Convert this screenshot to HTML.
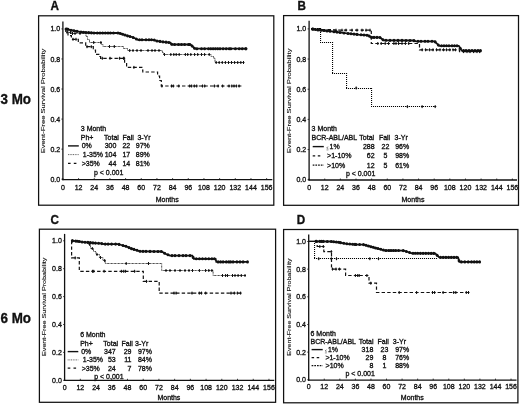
<!DOCTYPE html>
<html><head><meta charset="utf-8"><style>
html,body{margin:0;padding:0;background:#fff;}
body{width:520px;height:404px;position:relative;overflow:hidden;font-family:"Liberation Sans", sans-serif;}
text{stroke:#111;stroke-width:0.32px;}
</style></head><body>
<svg width="520" height="404" viewBox="0 0 520 404" style="position:absolute;left:0;top:0;will-change:transform;filter:blur(0.3px)">
<g font-family='"Liberation Sans", sans-serif' fill="#111" stroke-linecap="butt">
<text x="0" y="0" font-size="13.4" font-weight="bold" transform="translate(0.5,103.9) scale(1,1.04)">3 Mo</text>
<text x="0" y="0" font-size="13.4" font-weight="bold" transform="translate(0.5,322.8) scale(1,1.04)">6 Mo</text>
<rect x="38.60" y="15.80" width="235.20" height="189.40" fill="none" stroke="#111" stroke-width="1.25"/>
<text x="0" y="0" font-size="11.7" font-weight="bold" transform="translate(50.60,9.70) scale(1,1.08)">A</text>
<line x1="62.90" y1="21.40" x2="62.90" y2="180.20" stroke="#111" stroke-width="1.3"/>
<line x1="62.30" y1="179.60" x2="272.30" y2="179.60" stroke="#111" stroke-width="1.3"/>
<text x="60.20" y="181.75" font-size="7" text-anchor="end" font-weight="normal" >0.0</text>
<line x1="61.40" y1="179.20" x2="62.90" y2="179.20" stroke="#111" stroke-width="0.8"/>
<text x="60.20" y="151.69" font-size="7" text-anchor="end" font-weight="normal" >0.2</text>
<line x1="61.40" y1="149.14" x2="62.90" y2="149.14" stroke="#111" stroke-width="0.8"/>
<text x="60.20" y="121.63" font-size="7" text-anchor="end" font-weight="normal" >0.4</text>
<line x1="61.40" y1="119.08" x2="62.90" y2="119.08" stroke="#111" stroke-width="0.8"/>
<text x="60.20" y="91.57" font-size="7" text-anchor="end" font-weight="normal" >0.6</text>
<line x1="61.40" y1="89.02" x2="62.90" y2="89.02" stroke="#111" stroke-width="0.8"/>
<text x="60.20" y="61.51" font-size="7" text-anchor="end" font-weight="normal" >0.8</text>
<line x1="61.40" y1="58.96" x2="62.90" y2="58.96" stroke="#111" stroke-width="0.8"/>
<text x="60.20" y="31.45" font-size="7" text-anchor="end" font-weight="normal" >1.0</text>
<line x1="61.40" y1="28.90" x2="62.90" y2="28.90" stroke="#111" stroke-width="0.8"/>
<text x="62.90" y="189.80" font-size="7" text-anchor="middle" font-weight="normal" >0</text>
<line x1="62.90" y1="178.10" x2="62.90" y2="179.60" stroke="#111" stroke-width="0.8"/>
<text x="78.57" y="189.80" font-size="7" text-anchor="middle" font-weight="normal" >12</text>
<line x1="78.57" y1="178.10" x2="78.57" y2="179.60" stroke="#111" stroke-width="0.8"/>
<text x="94.24" y="189.80" font-size="7" text-anchor="middle" font-weight="normal" >24</text>
<line x1="94.24" y1="178.10" x2="94.24" y2="179.60" stroke="#111" stroke-width="0.8"/>
<text x="109.92" y="189.80" font-size="7" text-anchor="middle" font-weight="normal" >36</text>
<line x1="109.92" y1="178.10" x2="109.92" y2="179.60" stroke="#111" stroke-width="0.8"/>
<text x="125.59" y="189.80" font-size="7" text-anchor="middle" font-weight="normal" >48</text>
<line x1="125.59" y1="178.10" x2="125.59" y2="179.60" stroke="#111" stroke-width="0.8"/>
<text x="141.26" y="189.80" font-size="7" text-anchor="middle" font-weight="normal" >60</text>
<line x1="141.26" y1="178.10" x2="141.26" y2="179.60" stroke="#111" stroke-width="0.8"/>
<text x="156.93" y="189.80" font-size="7" text-anchor="middle" font-weight="normal" >72</text>
<line x1="156.93" y1="178.10" x2="156.93" y2="179.60" stroke="#111" stroke-width="0.8"/>
<text x="172.60" y="189.80" font-size="7" text-anchor="middle" font-weight="normal" >84</text>
<line x1="172.60" y1="178.10" x2="172.60" y2="179.60" stroke="#111" stroke-width="0.8"/>
<text x="188.28" y="189.80" font-size="7" text-anchor="middle" font-weight="normal" >96</text>
<line x1="188.28" y1="178.10" x2="188.28" y2="179.60" stroke="#111" stroke-width="0.8"/>
<text x="203.95" y="189.80" font-size="7" text-anchor="middle" font-weight="normal" >108</text>
<line x1="203.95" y1="178.10" x2="203.95" y2="179.60" stroke="#111" stroke-width="0.8"/>
<text x="219.62" y="189.80" font-size="7" text-anchor="middle" font-weight="normal" >120</text>
<line x1="219.62" y1="178.10" x2="219.62" y2="179.60" stroke="#111" stroke-width="0.8"/>
<text x="235.29" y="189.80" font-size="7" text-anchor="middle" font-weight="normal" >132</text>
<line x1="235.29" y1="178.10" x2="235.29" y2="179.60" stroke="#111" stroke-width="0.8"/>
<text x="250.96" y="189.80" font-size="7" text-anchor="middle" font-weight="normal" >144</text>
<line x1="250.96" y1="178.10" x2="250.96" y2="179.60" stroke="#111" stroke-width="0.8"/>
<text x="266.64" y="189.80" font-size="7" text-anchor="middle" font-weight="normal" >156</text>
<line x1="266.64" y1="178.10" x2="266.64" y2="179.60" stroke="#111" stroke-width="0.8"/>
<text x="167.20" y="201.90" font-size="7.0" text-anchor="middle" font-weight="normal" >Months</text>
<text x="0" y="0" font-size="5.3" text-anchor="middle" style="stroke-width:0.12px" transform="translate(44.90,101.00) rotate(-90) scale(1.443,1)">Event-Free Survival Probability</text>
<path d="M65.40,29.00 L68.00,29.30 L70.00,30.00 L75.00,31.00 L80.00,31.90 L86.00,32.50 L94.00,33.00 L118.80,33.00 L123.50,34.50 L128.00,36.00 L132.00,37.00 L136.50,39.00 L138.00,39.80 L153.50,39.80 L156.50,40.90 L162.70,41.80 L170.40,42.60 L172.00,44.50 L190.50,44.50 L195.00,48.70 L246.40,48.70" fill="none" stroke="#111" stroke-width="1.8" stroke-linejoin="miter"/>
<path d="M65.40,29.00 L67.50,29.00 L67.50,32.50 L71.00,32.50 L71.00,33.50 L86.00,33.50 L86.00,36.50 L87.50,36.50 L87.50,39.50 L89.50,39.50 L89.50,42.50 L101.30,42.50 L101.30,44.50 L103.00,44.50 L103.00,46.50 L123.50,46.50 L123.50,48.50 L127.50,48.50 L127.50,50.50 L162.30,50.50 L162.30,52.50 L163.50,52.50 L163.50,54.50 L211.00,54.50 L211.00,56.50 L213.80,56.50 L213.80,58.50 L215.00,58.50 L215.00,62.50 L244.00,62.50" fill="none" stroke="#222" stroke-width="1.0" stroke-linejoin="miter" stroke-dasharray="0.8,0.6"/>
<path d="M65.40,29.00 L65.80,29.00 L65.80,32.20 L68.00,32.20 L68.00,35.60 L71.40,35.60 L71.40,39.30 L78.30,39.30 L78.30,42.80 L85.70,42.80 L85.70,46.70 L93.30,46.70 L93.30,50.10 L95.50,50.10 L95.50,54.40 L99.80,54.40 L99.80,56.50 L100.60,56.50 L100.60,58.30 L124.60,58.30 L124.60,62.80 L126.60,62.80 L126.60,67.40 L141.80,67.40 L141.80,70.00 L142.80,70.00 L142.80,72.00 L157.60,72.00 L157.60,76.00 L159.60,76.00 L159.60,80.50 L161.30,80.50 L161.30,86.00 L241.80,86.00" fill="none" stroke="#111" stroke-width="1.2" stroke-linejoin="miter" stroke-dasharray="3.4,2.2"/>
<ellipse cx="66.00" cy="29.07" rx="1.45" ry="1.55" fill="#111"/>
<ellipse cx="68.00" cy="29.30" rx="1.45" ry="1.55" fill="#111"/>
<ellipse cx="71.00" cy="30.20" rx="1.45" ry="1.55" fill="#111"/>
<ellipse cx="74.00" cy="30.80" rx="1.45" ry="1.55" fill="#111"/>
<ellipse cx="77.00" cy="31.36" rx="1.45" ry="1.55" fill="#111"/>
<ellipse cx="81.00" cy="32.00" rx="1.45" ry="1.55" fill="#111"/>
<ellipse cx="83.50" cy="32.25" rx="1.45" ry="1.55" fill="#111"/>
<ellipse cx="86.00" cy="32.50" rx="1.45" ry="1.55" fill="#111"/>
<ellipse cx="88.67" cy="32.67" rx="1.45" ry="1.55" fill="#111"/>
<ellipse cx="91.33" cy="32.83" rx="1.45" ry="1.55" fill="#111"/>
<ellipse cx="94.00" cy="33.00" rx="1.45" ry="1.55" fill="#111"/>
<ellipse cx="97.30" cy="33.00" rx="1.45" ry="1.55" fill="#111"/>
<ellipse cx="99.97" cy="33.00" rx="1.45" ry="1.55" fill="#111"/>
<ellipse cx="102.65" cy="33.00" rx="1.45" ry="1.55" fill="#111"/>
<ellipse cx="105.33" cy="33.00" rx="1.45" ry="1.55" fill="#111"/>
<ellipse cx="108.00" cy="33.00" rx="1.45" ry="1.55" fill="#111"/>
<ellipse cx="110.40" cy="33.00" rx="1.45" ry="1.55" fill="#111"/>
<ellipse cx="113.50" cy="33.00" rx="1.45" ry="1.55" fill="#111"/>
<ellipse cx="118.00" cy="33.00" rx="1.45" ry="1.55" fill="#111"/>
<ellipse cx="120.33" cy="33.49" rx="1.45" ry="1.55" fill="#111"/>
<ellipse cx="122.67" cy="34.23" rx="1.45" ry="1.55" fill="#111"/>
<ellipse cx="125.00" cy="35.00" rx="1.45" ry="1.55" fill="#111"/>
<ellipse cx="127.50" cy="35.83" rx="1.45" ry="1.55" fill="#111"/>
<ellipse cx="130.00" cy="36.50" rx="1.45" ry="1.55" fill="#111"/>
<ellipse cx="133.17" cy="37.52" rx="1.45" ry="1.55" fill="#111"/>
<ellipse cx="136.33" cy="38.93" rx="1.45" ry="1.55" fill="#111"/>
<ellipse cx="139.50" cy="39.80" rx="1.45" ry="1.55" fill="#111"/>
<ellipse cx="142.00" cy="39.80" rx="1.45" ry="1.55" fill="#111"/>
<ellipse cx="146.00" cy="39.80" rx="1.45" ry="1.55" fill="#111"/>
<ellipse cx="149.00" cy="39.80" rx="1.45" ry="1.55" fill="#111"/>
<ellipse cx="151.50" cy="39.80" rx="1.45" ry="1.55" fill="#111"/>
<ellipse cx="154.25" cy="40.07" rx="1.45" ry="1.55" fill="#111"/>
<ellipse cx="157.00" cy="40.97" rx="1.45" ry="1.55" fill="#111"/>
<ellipse cx="160.00" cy="41.41" rx="1.45" ry="1.55" fill="#111"/>
<ellipse cx="163.00" cy="41.83" rx="1.45" ry="1.55" fill="#111"/>
<ellipse cx="166.00" cy="42.14" rx="1.45" ry="1.55" fill="#111"/>
<ellipse cx="168.87" cy="42.44" rx="1.45" ry="1.55" fill="#111"/>
<ellipse cx="171.73" cy="44.18" rx="1.45" ry="1.55" fill="#111"/>
<ellipse cx="174.60" cy="44.50" rx="1.45" ry="1.55" fill="#111"/>
<ellipse cx="178.50" cy="44.50" rx="1.45" ry="1.55" fill="#111"/>
<ellipse cx="181.50" cy="44.50" rx="1.45" ry="1.55" fill="#111"/>
<ellipse cx="184.60" cy="44.50" rx="1.45" ry="1.55" fill="#111"/>
<ellipse cx="188.50" cy="44.50" rx="1.45" ry="1.55" fill="#111"/>
<ellipse cx="189.70" cy="44.50" rx="1.45" ry="1.55" fill="#111"/>
<ellipse cx="192.10" cy="45.99" rx="1.45" ry="1.55" fill="#111"/>
<ellipse cx="194.50" cy="48.23" rx="1.45" ry="1.55" fill="#111"/>
<ellipse cx="196.90" cy="48.70" rx="1.45" ry="1.55" fill="#111"/>
<ellipse cx="201.50" cy="48.70" rx="1.45" ry="1.55" fill="#111"/>
<ellipse cx="204.60" cy="48.70" rx="1.45" ry="1.55" fill="#111"/>
<ellipse cx="208.50" cy="48.70" rx="1.45" ry="1.55" fill="#111"/>
<ellipse cx="210.80" cy="48.70" rx="1.45" ry="1.55" fill="#111"/>
<ellipse cx="213.10" cy="48.70" rx="1.45" ry="1.55" fill="#111"/>
<ellipse cx="215.40" cy="48.70" rx="1.45" ry="1.55" fill="#111"/>
<ellipse cx="217.70" cy="48.70" rx="1.45" ry="1.55" fill="#111"/>
<ellipse cx="220.00" cy="48.70" rx="1.45" ry="1.55" fill="#111"/>
<ellipse cx="223.10" cy="48.70" rx="1.45" ry="1.55" fill="#111"/>
<ellipse cx="226.20" cy="48.70" rx="1.45" ry="1.55" fill="#111"/>
<ellipse cx="229.20" cy="48.70" rx="1.45" ry="1.55" fill="#111"/>
<ellipse cx="230.80" cy="48.70" rx="1.45" ry="1.55" fill="#111"/>
<ellipse cx="235.40" cy="48.70" rx="1.45" ry="1.55" fill="#111"/>
<ellipse cx="239.20" cy="48.70" rx="1.45" ry="1.55" fill="#111"/>
<ellipse cx="242.30" cy="48.70" rx="1.45" ry="1.55" fill="#111"/>
<ellipse cx="245.70" cy="48.70" rx="1.45" ry="1.55" fill="#111"/>
<ellipse cx="246.00" cy="48.70" rx="1.45" ry="1.55" fill="#111"/>
<line x1="67.00" y1="27.50" x2="67.00" y2="30.50" stroke="#111" stroke-width="1.0"/>
<line x1="66.00" y1="29.00" x2="68.00" y2="29.00" stroke="#111" stroke-width="1.1"/>
<line x1="70.50" y1="31.00" x2="70.50" y2="34.00" stroke="#111" stroke-width="1.0"/>
<line x1="69.50" y1="32.50" x2="71.50" y2="32.50" stroke="#111" stroke-width="1.1"/>
<line x1="72.50" y1="32.00" x2="72.50" y2="35.00" stroke="#111" stroke-width="1.0"/>
<line x1="71.50" y1="33.50" x2="73.50" y2="33.50" stroke="#111" stroke-width="1.1"/>
<line x1="75.00" y1="32.00" x2="75.00" y2="35.00" stroke="#111" stroke-width="1.0"/>
<line x1="74.00" y1="33.50" x2="76.00" y2="33.50" stroke="#111" stroke-width="1.1"/>
<line x1="80.00" y1="32.00" x2="80.00" y2="35.00" stroke="#111" stroke-width="1.0"/>
<line x1="79.00" y1="33.50" x2="81.00" y2="33.50" stroke="#111" stroke-width="1.1"/>
<line x1="93.70" y1="41.00" x2="93.70" y2="44.00" stroke="#111" stroke-width="1.0"/>
<line x1="92.70" y1="42.50" x2="94.70" y2="42.50" stroke="#111" stroke-width="1.1"/>
<line x1="100.90" y1="41.00" x2="100.90" y2="44.00" stroke="#111" stroke-width="1.0"/>
<line x1="99.90" y1="42.50" x2="101.90" y2="42.50" stroke="#111" stroke-width="1.1"/>
<line x1="109.50" y1="45.00" x2="109.50" y2="48.00" stroke="#111" stroke-width="1.0"/>
<line x1="108.50" y1="46.50" x2="110.50" y2="46.50" stroke="#111" stroke-width="1.1"/>
<line x1="114.30" y1="45.00" x2="114.30" y2="48.00" stroke="#111" stroke-width="1.0"/>
<line x1="113.30" y1="46.50" x2="115.30" y2="46.50" stroke="#111" stroke-width="1.1"/>
<line x1="129.70" y1="49.00" x2="129.70" y2="52.00" stroke="#111" stroke-width="1.0"/>
<line x1="128.70" y1="50.50" x2="130.70" y2="50.50" stroke="#111" stroke-width="1.1"/>
<line x1="133.00" y1="49.00" x2="133.00" y2="52.00" stroke="#111" stroke-width="1.0"/>
<line x1="132.00" y1="50.50" x2="134.00" y2="50.50" stroke="#111" stroke-width="1.1"/>
<line x1="137.00" y1="49.00" x2="137.00" y2="52.00" stroke="#111" stroke-width="1.0"/>
<line x1="136.00" y1="50.50" x2="138.00" y2="50.50" stroke="#111" stroke-width="1.1"/>
<line x1="141.00" y1="49.00" x2="141.00" y2="52.00" stroke="#111" stroke-width="1.0"/>
<line x1="140.00" y1="50.50" x2="142.00" y2="50.50" stroke="#111" stroke-width="1.1"/>
<line x1="148.00" y1="49.00" x2="148.00" y2="52.00" stroke="#111" stroke-width="1.0"/>
<line x1="147.00" y1="50.50" x2="149.00" y2="50.50" stroke="#111" stroke-width="1.1"/>
<line x1="152.00" y1="49.00" x2="152.00" y2="52.00" stroke="#111" stroke-width="1.0"/>
<line x1="151.00" y1="50.50" x2="153.00" y2="50.50" stroke="#111" stroke-width="1.1"/>
<line x1="155.00" y1="49.00" x2="155.00" y2="52.00" stroke="#111" stroke-width="1.0"/>
<line x1="154.00" y1="50.50" x2="156.00" y2="50.50" stroke="#111" stroke-width="1.1"/>
<line x1="159.00" y1="49.00" x2="159.00" y2="52.00" stroke="#111" stroke-width="1.0"/>
<line x1="158.00" y1="50.50" x2="160.00" y2="50.50" stroke="#111" stroke-width="1.1"/>
<line x1="164.50" y1="53.00" x2="164.50" y2="56.00" stroke="#111" stroke-width="1.0"/>
<line x1="163.50" y1="54.50" x2="165.50" y2="54.50" stroke="#111" stroke-width="1.1"/>
<line x1="170.80" y1="53.00" x2="170.80" y2="56.00" stroke="#111" stroke-width="1.0"/>
<line x1="169.80" y1="54.50" x2="171.80" y2="54.50" stroke="#111" stroke-width="1.1"/>
<line x1="173.80" y1="53.00" x2="173.80" y2="56.00" stroke="#111" stroke-width="1.0"/>
<line x1="172.80" y1="54.50" x2="174.80" y2="54.50" stroke="#111" stroke-width="1.1"/>
<line x1="176.20" y1="53.00" x2="176.20" y2="56.00" stroke="#111" stroke-width="1.0"/>
<line x1="175.20" y1="54.50" x2="177.20" y2="54.50" stroke="#111" stroke-width="1.1"/>
<line x1="179.20" y1="53.00" x2="179.20" y2="56.00" stroke="#111" stroke-width="1.0"/>
<line x1="178.20" y1="54.50" x2="180.20" y2="54.50" stroke="#111" stroke-width="1.1"/>
<line x1="185.40" y1="53.00" x2="185.40" y2="56.00" stroke="#111" stroke-width="1.0"/>
<line x1="184.40" y1="54.50" x2="186.40" y2="54.50" stroke="#111" stroke-width="1.1"/>
<line x1="187.70" y1="53.00" x2="187.70" y2="56.00" stroke="#111" stroke-width="1.0"/>
<line x1="186.70" y1="54.50" x2="188.70" y2="54.50" stroke="#111" stroke-width="1.1"/>
<line x1="190.80" y1="53.00" x2="190.80" y2="56.00" stroke="#111" stroke-width="1.0"/>
<line x1="189.80" y1="54.50" x2="191.80" y2="54.50" stroke="#111" stroke-width="1.1"/>
<line x1="194.60" y1="53.00" x2="194.60" y2="56.00" stroke="#111" stroke-width="1.0"/>
<line x1="193.60" y1="54.50" x2="195.60" y2="54.50" stroke="#111" stroke-width="1.1"/>
<line x1="197.70" y1="53.00" x2="197.70" y2="56.00" stroke="#111" stroke-width="1.0"/>
<line x1="196.70" y1="54.50" x2="198.70" y2="54.50" stroke="#111" stroke-width="1.1"/>
<line x1="201.50" y1="53.00" x2="201.50" y2="56.00" stroke="#111" stroke-width="1.0"/>
<line x1="200.50" y1="54.50" x2="202.50" y2="54.50" stroke="#111" stroke-width="1.1"/>
<line x1="204.60" y1="53.00" x2="204.60" y2="56.00" stroke="#111" stroke-width="1.0"/>
<line x1="203.60" y1="54.50" x2="205.60" y2="54.50" stroke="#111" stroke-width="1.1"/>
<line x1="209.20" y1="53.00" x2="209.20" y2="56.00" stroke="#111" stroke-width="1.0"/>
<line x1="208.20" y1="54.50" x2="210.20" y2="54.50" stroke="#111" stroke-width="1.1"/>
<line x1="216.20" y1="61.00" x2="216.20" y2="64.00" stroke="#111" stroke-width="1.0"/>
<line x1="215.20" y1="62.50" x2="217.20" y2="62.50" stroke="#111" stroke-width="1.1"/>
<line x1="219.20" y1="61.00" x2="219.20" y2="64.00" stroke="#111" stroke-width="1.0"/>
<line x1="218.20" y1="62.50" x2="220.20" y2="62.50" stroke="#111" stroke-width="1.1"/>
<line x1="222.30" y1="61.00" x2="222.30" y2="64.00" stroke="#111" stroke-width="1.0"/>
<line x1="221.30" y1="62.50" x2="223.30" y2="62.50" stroke="#111" stroke-width="1.1"/>
<line x1="225.40" y1="61.00" x2="225.40" y2="64.00" stroke="#111" stroke-width="1.0"/>
<line x1="224.40" y1="62.50" x2="226.40" y2="62.50" stroke="#111" stroke-width="1.1"/>
<line x1="228.50" y1="61.00" x2="228.50" y2="64.00" stroke="#111" stroke-width="1.0"/>
<line x1="227.50" y1="62.50" x2="229.50" y2="62.50" stroke="#111" stroke-width="1.1"/>
<line x1="231.50" y1="61.00" x2="231.50" y2="64.00" stroke="#111" stroke-width="1.0"/>
<line x1="230.50" y1="62.50" x2="232.50" y2="62.50" stroke="#111" stroke-width="1.1"/>
<line x1="234.60" y1="61.00" x2="234.60" y2="64.00" stroke="#111" stroke-width="1.0"/>
<line x1="233.60" y1="62.50" x2="235.60" y2="62.50" stroke="#111" stroke-width="1.1"/>
<line x1="237.70" y1="61.00" x2="237.70" y2="64.00" stroke="#111" stroke-width="1.0"/>
<line x1="236.70" y1="62.50" x2="238.70" y2="62.50" stroke="#111" stroke-width="1.1"/>
<line x1="240.80" y1="61.00" x2="240.80" y2="64.00" stroke="#111" stroke-width="1.0"/>
<line x1="239.80" y1="62.50" x2="241.80" y2="62.50" stroke="#111" stroke-width="1.1"/>
<line x1="243.50" y1="61.00" x2="243.50" y2="64.00" stroke="#111" stroke-width="1.0"/>
<line x1="242.50" y1="62.50" x2="244.50" y2="62.50" stroke="#111" stroke-width="1.1"/>
<line x1="67.00" y1="30.70" x2="67.00" y2="33.70" stroke="#111" stroke-width="1.0"/>
<line x1="66.00" y1="32.20" x2="68.00" y2="32.20" stroke="#111" stroke-width="1.1"/>
<line x1="73.00" y1="37.80" x2="73.00" y2="40.80" stroke="#111" stroke-width="1.0"/>
<line x1="72.00" y1="39.30" x2="74.00" y2="39.30" stroke="#111" stroke-width="1.1"/>
<line x1="76.00" y1="37.80" x2="76.00" y2="40.80" stroke="#111" stroke-width="1.0"/>
<line x1="75.00" y1="39.30" x2="77.00" y2="39.30" stroke="#111" stroke-width="1.1"/>
<line x1="87.00" y1="45.20" x2="87.00" y2="48.20" stroke="#111" stroke-width="1.0"/>
<line x1="86.00" y1="46.70" x2="88.00" y2="46.70" stroke="#111" stroke-width="1.1"/>
<line x1="91.30" y1="45.20" x2="91.30" y2="48.20" stroke="#111" stroke-width="1.0"/>
<line x1="90.30" y1="46.70" x2="92.30" y2="46.70" stroke="#111" stroke-width="1.1"/>
<line x1="102.30" y1="56.80" x2="102.30" y2="59.80" stroke="#111" stroke-width="1.0"/>
<line x1="101.30" y1="58.30" x2="103.30" y2="58.30" stroke="#111" stroke-width="1.1"/>
<line x1="110.00" y1="56.80" x2="110.00" y2="59.80" stroke="#111" stroke-width="1.0"/>
<line x1="109.00" y1="58.30" x2="111.00" y2="58.30" stroke="#111" stroke-width="1.1"/>
<line x1="119.60" y1="56.80" x2="119.60" y2="59.80" stroke="#111" stroke-width="1.0"/>
<line x1="118.60" y1="58.30" x2="120.60" y2="58.30" stroke="#111" stroke-width="1.1"/>
<line x1="123.50" y1="56.80" x2="123.50" y2="59.80" stroke="#111" stroke-width="1.0"/>
<line x1="122.50" y1="58.30" x2="124.50" y2="58.30" stroke="#111" stroke-width="1.1"/>
<line x1="124.20" y1="56.80" x2="124.20" y2="59.80" stroke="#111" stroke-width="1.0"/>
<line x1="123.20" y1="58.30" x2="125.20" y2="58.30" stroke="#111" stroke-width="1.1"/>
<line x1="133.90" y1="65.90" x2="133.90" y2="68.90" stroke="#111" stroke-width="1.0"/>
<line x1="132.90" y1="67.40" x2="134.90" y2="67.40" stroke="#111" stroke-width="1.1"/>
<line x1="161.90" y1="84.50" x2="161.90" y2="87.50" stroke="#111" stroke-width="1.0"/>
<line x1="160.90" y1="86.00" x2="162.90" y2="86.00" stroke="#111" stroke-width="1.1"/>
<line x1="171.50" y1="84.50" x2="171.50" y2="87.50" stroke="#111" stroke-width="1.0"/>
<line x1="170.50" y1="86.00" x2="172.50" y2="86.00" stroke="#111" stroke-width="1.1"/>
<line x1="173.30" y1="84.50" x2="173.30" y2="87.50" stroke="#111" stroke-width="1.0"/>
<line x1="172.30" y1="86.00" x2="174.30" y2="86.00" stroke="#111" stroke-width="1.1"/>
<line x1="178.80" y1="84.50" x2="178.80" y2="87.50" stroke="#111" stroke-width="1.0"/>
<line x1="177.80" y1="86.00" x2="179.80" y2="86.00" stroke="#111" stroke-width="1.1"/>
<line x1="189.70" y1="84.50" x2="189.70" y2="87.50" stroke="#111" stroke-width="1.0"/>
<line x1="188.70" y1="86.00" x2="190.70" y2="86.00" stroke="#111" stroke-width="1.1"/>
<line x1="191.60" y1="84.50" x2="191.60" y2="87.50" stroke="#111" stroke-width="1.0"/>
<line x1="190.60" y1="86.00" x2="192.60" y2="86.00" stroke="#111" stroke-width="1.1"/>
<line x1="194.30" y1="84.50" x2="194.30" y2="87.50" stroke="#111" stroke-width="1.0"/>
<line x1="193.30" y1="86.00" x2="195.30" y2="86.00" stroke="#111" stroke-width="1.1"/>
<line x1="196.70" y1="84.50" x2="196.70" y2="87.50" stroke="#111" stroke-width="1.0"/>
<line x1="195.70" y1="86.00" x2="197.70" y2="86.00" stroke="#111" stroke-width="1.1"/>
<line x1="202.50" y1="84.50" x2="202.50" y2="87.50" stroke="#111" stroke-width="1.0"/>
<line x1="201.50" y1="86.00" x2="203.50" y2="86.00" stroke="#111" stroke-width="1.1"/>
<line x1="204.70" y1="84.50" x2="204.70" y2="87.50" stroke="#111" stroke-width="1.0"/>
<line x1="203.70" y1="86.00" x2="205.70" y2="86.00" stroke="#111" stroke-width="1.1"/>
<line x1="214.40" y1="84.50" x2="214.40" y2="87.50" stroke="#111" stroke-width="1.0"/>
<line x1="213.40" y1="86.00" x2="215.40" y2="86.00" stroke="#111" stroke-width="1.1"/>
<line x1="218.10" y1="84.50" x2="218.10" y2="87.50" stroke="#111" stroke-width="1.0"/>
<line x1="217.10" y1="86.00" x2="219.10" y2="86.00" stroke="#111" stroke-width="1.1"/>
<line x1="222.60" y1="84.50" x2="222.60" y2="87.50" stroke="#111" stroke-width="1.0"/>
<line x1="221.60" y1="86.00" x2="223.60" y2="86.00" stroke="#111" stroke-width="1.1"/>
<line x1="229.00" y1="84.50" x2="229.00" y2="87.50" stroke="#111" stroke-width="1.0"/>
<line x1="228.00" y1="86.00" x2="230.00" y2="86.00" stroke="#111" stroke-width="1.1"/>
<line x1="231.80" y1="84.50" x2="231.80" y2="87.50" stroke="#111" stroke-width="1.0"/>
<line x1="230.80" y1="86.00" x2="232.80" y2="86.00" stroke="#111" stroke-width="1.1"/>
<line x1="234.00" y1="84.50" x2="234.00" y2="87.50" stroke="#111" stroke-width="1.0"/>
<line x1="233.00" y1="86.00" x2="235.00" y2="86.00" stroke="#111" stroke-width="1.1"/>
<line x1="236.40" y1="84.50" x2="236.40" y2="87.50" stroke="#111" stroke-width="1.0"/>
<line x1="235.40" y1="86.00" x2="237.40" y2="86.00" stroke="#111" stroke-width="1.1"/>
<line x1="239.10" y1="84.50" x2="239.10" y2="87.50" stroke="#111" stroke-width="1.0"/>
<line x1="238.10" y1="86.00" x2="240.10" y2="86.00" stroke="#111" stroke-width="1.1"/>
<text x="80.80" y="130.60" font-size="7" text-anchor="start" font-weight="normal" >3 Month</text>
<text x="80.80" y="139.50" font-size="7" text-anchor="start" font-weight="normal" >Ph+</text>
<text x="104.10" y="139.50" font-size="7" text-anchor="start" font-weight="normal" >Total</text>
<text x="122.50" y="139.50" font-size="7" text-anchor="start" font-weight="normal" >Fail</text>
<text x="137.40" y="139.50" font-size="7" text-anchor="start" font-weight="normal" >3-Yr</text>
<line x1="68.00" y1="145.90" x2="78.80" y2="145.90" stroke="#111" stroke-width="1.4"/>
<text x="81.70" y="148.30" font-size="7" text-anchor="start" font-weight="normal" >0%</text>
<text x="116.40" y="148.30" font-size="7" text-anchor="end" font-weight="normal" >300</text>
<text x="130.20" y="148.30" font-size="7" text-anchor="end" font-weight="normal" >22</text>
<text x="149.80" y="148.30" font-size="7" text-anchor="end" font-weight="normal" >97%</text>
<line x1="68.00" y1="154.60" x2="78.80" y2="154.60" stroke="#555" stroke-width="1.0" stroke-dasharray="0.9,0.8"/>
<text x="82.80" y="157.00" font-size="7" text-anchor="start" font-weight="normal" >1-35%</text>
<text x="116.40" y="157.00" font-size="7" text-anchor="end" font-weight="normal" >104</text>
<text x="130.20" y="157.00" font-size="7" text-anchor="end" font-weight="normal" >17</text>
<text x="149.80" y="157.00" font-size="7" text-anchor="end" font-weight="normal" >89%</text>
<line x1="68.00" y1="163.40" x2="76.40" y2="163.40" stroke="#111" stroke-width="1.3" stroke-dasharray="2.6,3.2"/>
<text x="81.70" y="165.80" font-size="7" text-anchor="start" font-weight="normal" >&gt;35%</text>
<text x="116.40" y="165.80" font-size="7" text-anchor="end" font-weight="normal" >44</text>
<text x="130.20" y="165.80" font-size="7" text-anchor="end" font-weight="normal" >14</text>
<text x="149.80" y="165.80" font-size="7" text-anchor="end" font-weight="normal" >81%</text>
<text x="94.00" y="174.70" font-size="7" text-anchor="start" font-weight="normal" >p &lt; 0.001</text>
<rect x="283.60" y="15.60" width="234.90" height="189.70" fill="none" stroke="#111" stroke-width="1.25"/>
<text x="0" y="0" font-size="11.7" font-weight="bold" transform="translate(297.60,9.90) scale(1,1.08)">B</text>
<line x1="309.10" y1="20.80" x2="309.10" y2="180.60" stroke="#111" stroke-width="1.3"/>
<line x1="308.50" y1="180.00" x2="517.00" y2="180.00" stroke="#111" stroke-width="1.3"/>
<text x="306.20" y="182.25" font-size="7" text-anchor="end" font-weight="normal" >0.0</text>
<line x1="307.60" y1="179.70" x2="309.10" y2="179.70" stroke="#111" stroke-width="0.8"/>
<text x="306.20" y="152.09" font-size="7" text-anchor="end" font-weight="normal" >0.2</text>
<line x1="307.60" y1="149.54" x2="309.10" y2="149.54" stroke="#111" stroke-width="0.8"/>
<text x="306.20" y="121.93" font-size="7" text-anchor="end" font-weight="normal" >0.4</text>
<line x1="307.60" y1="119.38" x2="309.10" y2="119.38" stroke="#111" stroke-width="0.8"/>
<text x="306.20" y="91.77" font-size="7" text-anchor="end" font-weight="normal" >0.6</text>
<line x1="307.60" y1="89.22" x2="309.10" y2="89.22" stroke="#111" stroke-width="0.8"/>
<text x="306.20" y="61.61" font-size="7" text-anchor="end" font-weight="normal" >0.8</text>
<line x1="307.60" y1="59.06" x2="309.10" y2="59.06" stroke="#111" stroke-width="0.8"/>
<text x="306.20" y="31.45" font-size="7" text-anchor="end" font-weight="normal" >1.0</text>
<line x1="307.60" y1="28.90" x2="309.10" y2="28.90" stroke="#111" stroke-width="0.8"/>
<text x="309.10" y="189.80" font-size="7" text-anchor="middle" font-weight="normal" >0</text>
<line x1="309.10" y1="178.50" x2="309.10" y2="180.00" stroke="#111" stroke-width="0.8"/>
<text x="324.74" y="189.80" font-size="7" text-anchor="middle" font-weight="normal" >12</text>
<line x1="324.74" y1="178.50" x2="324.74" y2="180.00" stroke="#111" stroke-width="0.8"/>
<text x="340.37" y="189.80" font-size="7" text-anchor="middle" font-weight="normal" >24</text>
<line x1="340.37" y1="178.50" x2="340.37" y2="180.00" stroke="#111" stroke-width="0.8"/>
<text x="356.01" y="189.80" font-size="7" text-anchor="middle" font-weight="normal" >36</text>
<line x1="356.01" y1="178.50" x2="356.01" y2="180.00" stroke="#111" stroke-width="0.8"/>
<text x="371.64" y="189.80" font-size="7" text-anchor="middle" font-weight="normal" >48</text>
<line x1="371.64" y1="178.50" x2="371.64" y2="180.00" stroke="#111" stroke-width="0.8"/>
<text x="387.28" y="189.80" font-size="7" text-anchor="middle" font-weight="normal" >60</text>
<line x1="387.28" y1="178.50" x2="387.28" y2="180.00" stroke="#111" stroke-width="0.8"/>
<text x="402.92" y="189.80" font-size="7" text-anchor="middle" font-weight="normal" >72</text>
<line x1="402.92" y1="178.50" x2="402.92" y2="180.00" stroke="#111" stroke-width="0.8"/>
<text x="418.55" y="189.80" font-size="7" text-anchor="middle" font-weight="normal" >84</text>
<line x1="418.55" y1="178.50" x2="418.55" y2="180.00" stroke="#111" stroke-width="0.8"/>
<text x="434.19" y="189.80" font-size="7" text-anchor="middle" font-weight="normal" >96</text>
<line x1="434.19" y1="178.50" x2="434.19" y2="180.00" stroke="#111" stroke-width="0.8"/>
<text x="449.82" y="189.80" font-size="7" text-anchor="middle" font-weight="normal" >108</text>
<line x1="449.82" y1="178.50" x2="449.82" y2="180.00" stroke="#111" stroke-width="0.8"/>
<text x="465.46" y="189.80" font-size="7" text-anchor="middle" font-weight="normal" >120</text>
<line x1="465.46" y1="178.50" x2="465.46" y2="180.00" stroke="#111" stroke-width="0.8"/>
<text x="481.10" y="189.80" font-size="7" text-anchor="middle" font-weight="normal" >132</text>
<line x1="481.10" y1="178.50" x2="481.10" y2="180.00" stroke="#111" stroke-width="0.8"/>
<text x="496.73" y="189.80" font-size="7" text-anchor="middle" font-weight="normal" >144</text>
<line x1="496.73" y1="178.50" x2="496.73" y2="180.00" stroke="#111" stroke-width="0.8"/>
<text x="512.37" y="189.80" font-size="7" text-anchor="middle" font-weight="normal" >156</text>
<line x1="512.37" y1="178.50" x2="512.37" y2="180.00" stroke="#111" stroke-width="0.8"/>
<text x="413.00" y="201.60" font-size="7.0" text-anchor="middle" font-weight="normal" >Months</text>
<text x="0" y="0" font-size="5.3" text-anchor="middle" style="stroke-width:0.12px" transform="translate(291.20,100.90) rotate(-90) scale(1.443,1)">Event-Free Survival Probability</text>
<path d="M311.50,28.90 L318.50,30.00 L331.90,31.40 L345.40,33.20 L358.80,34.60 L368.30,35.30 L371.00,37.40 L379.80,37.40 L383.80,40.30 L413.50,40.50 L416.00,41.30 L434.60,41.30 L439.20,45.80 L458.80,45.80 L461.70,50.60 L480.70,50.60" fill="none" stroke="#111" stroke-width="1.8" stroke-linejoin="miter"/>
<path d="M311.50,28.90 L322.00,28.90 L322.00,29.60 L334.00,29.60 L334.00,30.20 L371.30,30.20 L371.30,43.50 L419.50,43.50 L419.50,49.80 L459.50,49.80 L459.50,51.60 L481.30,51.60" fill="none" stroke="#111" stroke-width="1.2" stroke-linejoin="miter" stroke-dasharray="3.4,2.2"/>
<path d="M311,28h1.1v1.1h-1.1zM313,28h1.1v1.1h-1.1zM315,28h1.1v1.1h-1.1zM317,28h1.1v1.1h-1.1zM319,28h1.1v1.1h-1.1zM320,28h1.1v1.1h-1.1zM320,30h1.1v1.1h-1.1zM320,32h1.1v1.1h-1.1zM320,34h1.1v1.1h-1.1zM320,36h1.1v1.1h-1.1zM320,38h1.1v1.1h-1.1zM320,40h1.1v1.1h-1.1zM320,42h1.1v1.1h-1.1zM320,42h1.1v1.1h-1.1zM322,42h1.1v1.1h-1.1zM324,42h1.1v1.1h-1.1zM326,42h1.1v1.1h-1.1zM328,42h1.1v1.1h-1.1zM330,42h1.1v1.1h-1.1zM332,42h1.1v1.1h-1.1zM332,42h1.1v1.1h-1.1zM332,44h1.1v1.1h-1.1zM332,46h1.1v1.1h-1.1zM332,48h1.1v1.1h-1.1zM332,50h1.1v1.1h-1.1zM332,52h1.1v1.1h-1.1zM332,54h1.1v1.1h-1.1zM332,56h1.1v1.1h-1.1zM332,58h1.1v1.1h-1.1zM332,60h1.1v1.1h-1.1zM332,62h1.1v1.1h-1.1zM332,64h1.1v1.1h-1.1zM332,66h1.1v1.1h-1.1zM332,68h1.1v1.1h-1.1zM332,70h1.1v1.1h-1.1zM332,72h1.1v1.1h-1.1zM332,73h1.1v1.1h-1.1zM334,73h1.1v1.1h-1.1zM336,73h1.1v1.1h-1.1zM338,73h1.1v1.1h-1.1zM340,73h1.1v1.1h-1.1zM342,73h1.1v1.1h-1.1zM344,73h1.1v1.1h-1.1zM346,73h1.1v1.1h-1.1zM346,73h1.1v1.1h-1.1zM346,75h1.1v1.1h-1.1zM346,77h1.1v1.1h-1.1zM346,79h1.1v1.1h-1.1zM346,81h1.1v1.1h-1.1zM346,83h1.1v1.1h-1.1zM346,85h1.1v1.1h-1.1zM346,87h1.1v1.1h-1.1zM346,88h1.1v1.1h-1.1zM348,88h1.1v1.1h-1.1zM350,88h1.1v1.1h-1.1zM352,88h1.1v1.1h-1.1zM354,88h1.1v1.1h-1.1zM356,88h1.1v1.1h-1.1zM358,88h1.1v1.1h-1.1zM360,88h1.1v1.1h-1.1zM362,88h1.1v1.1h-1.1zM364,88h1.1v1.1h-1.1zM366,88h1.1v1.1h-1.1zM368,88h1.1v1.1h-1.1zM370,88h1.1v1.1h-1.1zM371,88h1.1v1.1h-1.1zM371,90h1.1v1.1h-1.1zM371,92h1.1v1.1h-1.1zM371,94h1.1v1.1h-1.1zM371,96h1.1v1.1h-1.1zM371,98h1.1v1.1h-1.1zM371,100h1.1v1.1h-1.1zM371,102h1.1v1.1h-1.1zM371,104h1.1v1.1h-1.1zM371,106h1.1v1.1h-1.1zM371,106h1.1v1.1h-1.1zM373,106h1.1v1.1h-1.1zM375,106h1.1v1.1h-1.1zM377,106h1.1v1.1h-1.1zM379,106h1.1v1.1h-1.1zM381,106h1.1v1.1h-1.1zM383,106h1.1v1.1h-1.1zM385,106h1.1v1.1h-1.1zM387,106h1.1v1.1h-1.1zM389,106h1.1v1.1h-1.1zM391,106h1.1v1.1h-1.1zM393,106h1.1v1.1h-1.1zM395,106h1.1v1.1h-1.1zM397,106h1.1v1.1h-1.1zM399,106h1.1v1.1h-1.1zM401,106h1.1v1.1h-1.1zM403,106h1.1v1.1h-1.1zM405,106h1.1v1.1h-1.1zM407,106h1.1v1.1h-1.1zM409,106h1.1v1.1h-1.1zM411,106h1.1v1.1h-1.1zM413,106h1.1v1.1h-1.1zM415,106h1.1v1.1h-1.1zM417,106h1.1v1.1h-1.1zM419,106h1.1v1.1h-1.1zM421,106h1.1v1.1h-1.1zM423,106h1.1v1.1h-1.1zM425,106h1.1v1.1h-1.1zM427,106h1.1v1.1h-1.1zM429,106h1.1v1.1h-1.1zM431,106h1.1v1.1h-1.1zM433,106h1.1v1.1h-1.1zM435,106h1.1v1.1h-1.1z" fill="#000"/>
<ellipse cx="312.50" cy="29.06" rx="1.45" ry="1.55" fill="#111"/>
<ellipse cx="313.00" cy="29.14" rx="1.45" ry="1.55" fill="#111"/>
<ellipse cx="315.50" cy="29.53" rx="1.45" ry="1.55" fill="#111"/>
<ellipse cx="318.00" cy="29.92" rx="1.45" ry="1.55" fill="#111"/>
<ellipse cx="321.00" cy="30.26" rx="1.45" ry="1.55" fill="#111"/>
<ellipse cx="324.00" cy="30.57" rx="1.45" ry="1.55" fill="#111"/>
<ellipse cx="327.00" cy="30.89" rx="1.45" ry="1.55" fill="#111"/>
<ellipse cx="330.00" cy="31.20" rx="1.45" ry="1.55" fill="#111"/>
<ellipse cx="334.00" cy="31.68" rx="1.45" ry="1.55" fill="#111"/>
<ellipse cx="337.00" cy="32.08" rx="1.45" ry="1.55" fill="#111"/>
<ellipse cx="340.00" cy="32.48" rx="1.45" ry="1.55" fill="#111"/>
<ellipse cx="344.00" cy="33.01" rx="1.45" ry="1.55" fill="#111"/>
<ellipse cx="348.00" cy="33.47" rx="1.45" ry="1.55" fill="#111"/>
<ellipse cx="351.00" cy="33.79" rx="1.45" ry="1.55" fill="#111"/>
<ellipse cx="354.00" cy="34.10" rx="1.45" ry="1.55" fill="#111"/>
<ellipse cx="357.00" cy="34.41" rx="1.45" ry="1.55" fill="#111"/>
<ellipse cx="361.00" cy="34.76" rx="1.45" ry="1.55" fill="#111"/>
<ellipse cx="364.00" cy="34.98" rx="1.45" ry="1.55" fill="#111"/>
<ellipse cx="367.00" cy="35.20" rx="1.45" ry="1.55" fill="#111"/>
<ellipse cx="369.33" cy="36.10" rx="1.45" ry="1.55" fill="#111"/>
<ellipse cx="371.67" cy="37.40" rx="1.45" ry="1.55" fill="#111"/>
<ellipse cx="374.00" cy="37.40" rx="1.45" ry="1.55" fill="#111"/>
<ellipse cx="377.00" cy="37.40" rx="1.45" ry="1.55" fill="#111"/>
<ellipse cx="380.00" cy="37.54" rx="1.45" ry="1.55" fill="#111"/>
<ellipse cx="383.00" cy="39.72" rx="1.45" ry="1.55" fill="#111"/>
<ellipse cx="386.00" cy="40.31" rx="1.45" ry="1.55" fill="#111"/>
<ellipse cx="390.00" cy="40.34" rx="1.45" ry="1.55" fill="#111"/>
<ellipse cx="394.00" cy="40.37" rx="1.45" ry="1.55" fill="#111"/>
<ellipse cx="398.00" cy="40.40" rx="1.45" ry="1.55" fill="#111"/>
<ellipse cx="402.00" cy="40.42" rx="1.45" ry="1.55" fill="#111"/>
<ellipse cx="406.00" cy="40.45" rx="1.45" ry="1.55" fill="#111"/>
<ellipse cx="410.00" cy="40.48" rx="1.45" ry="1.55" fill="#111"/>
<ellipse cx="414.00" cy="40.66" rx="1.45" ry="1.55" fill="#111"/>
<ellipse cx="418.00" cy="41.30" rx="1.45" ry="1.55" fill="#111"/>
<ellipse cx="421.00" cy="41.30" rx="1.45" ry="1.55" fill="#111"/>
<ellipse cx="425.00" cy="41.30" rx="1.45" ry="1.55" fill="#111"/>
<ellipse cx="428.00" cy="41.30" rx="1.45" ry="1.55" fill="#111"/>
<ellipse cx="432.00" cy="41.30" rx="1.45" ry="1.55" fill="#111"/>
<ellipse cx="435.17" cy="41.85" rx="1.45" ry="1.55" fill="#111"/>
<ellipse cx="438.33" cy="44.95" rx="1.45" ry="1.55" fill="#111"/>
<ellipse cx="441.50" cy="45.80" rx="1.45" ry="1.55" fill="#111"/>
<ellipse cx="444.00" cy="45.80" rx="1.45" ry="1.55" fill="#111"/>
<ellipse cx="446.50" cy="45.80" rx="1.45" ry="1.55" fill="#111"/>
<ellipse cx="449.00" cy="45.80" rx="1.45" ry="1.55" fill="#111"/>
<ellipse cx="452.00" cy="45.80" rx="1.45" ry="1.55" fill="#111"/>
<ellipse cx="454.50" cy="45.80" rx="1.45" ry="1.55" fill="#111"/>
<ellipse cx="457.00" cy="45.80" rx="1.45" ry="1.55" fill="#111"/>
<ellipse cx="460.25" cy="48.20" rx="1.45" ry="1.55" fill="#111"/>
<ellipse cx="463.50" cy="50.60" rx="1.45" ry="1.55" fill="#111"/>
<ellipse cx="466.00" cy="50.60" rx="1.45" ry="1.55" fill="#111"/>
<ellipse cx="469.00" cy="50.60" rx="1.45" ry="1.55" fill="#111"/>
<ellipse cx="472.00" cy="50.60" rx="1.45" ry="1.55" fill="#111"/>
<ellipse cx="475.00" cy="50.60" rx="1.45" ry="1.55" fill="#111"/>
<ellipse cx="478.00" cy="50.60" rx="1.45" ry="1.55" fill="#111"/>
<ellipse cx="480.50" cy="50.60" rx="1.45" ry="1.55" fill="#111"/>
<line x1="336.00" y1="28.70" x2="336.00" y2="31.70" stroke="#111" stroke-width="1.0"/>
<line x1="335.00" y1="30.20" x2="337.00" y2="30.20" stroke="#111" stroke-width="1.1"/>
<line x1="342.00" y1="28.70" x2="342.00" y2="31.70" stroke="#111" stroke-width="1.0"/>
<line x1="341.00" y1="30.20" x2="343.00" y2="30.20" stroke="#111" stroke-width="1.1"/>
<line x1="346.00" y1="28.70" x2="346.00" y2="31.70" stroke="#111" stroke-width="1.0"/>
<line x1="345.00" y1="30.20" x2="347.00" y2="30.20" stroke="#111" stroke-width="1.1"/>
<line x1="352.00" y1="28.70" x2="352.00" y2="31.70" stroke="#111" stroke-width="1.0"/>
<line x1="351.00" y1="30.20" x2="353.00" y2="30.20" stroke="#111" stroke-width="1.1"/>
<line x1="357.00" y1="28.70" x2="357.00" y2="31.70" stroke="#111" stroke-width="1.0"/>
<line x1="356.00" y1="30.20" x2="358.00" y2="30.20" stroke="#111" stroke-width="1.1"/>
<line x1="362.00" y1="28.70" x2="362.00" y2="31.70" stroke="#111" stroke-width="1.0"/>
<line x1="361.00" y1="30.20" x2="363.00" y2="30.20" stroke="#111" stroke-width="1.1"/>
<line x1="366.00" y1="28.70" x2="366.00" y2="31.70" stroke="#111" stroke-width="1.0"/>
<line x1="365.00" y1="30.20" x2="367.00" y2="30.20" stroke="#111" stroke-width="1.1"/>
<line x1="370.00" y1="28.70" x2="370.00" y2="31.70" stroke="#111" stroke-width="1.0"/>
<line x1="369.00" y1="30.20" x2="371.00" y2="30.20" stroke="#111" stroke-width="1.1"/>
<line x1="377.80" y1="42.00" x2="377.80" y2="45.00" stroke="#111" stroke-width="1.0"/>
<line x1="376.80" y1="43.50" x2="378.80" y2="43.50" stroke="#111" stroke-width="1.1"/>
<line x1="381.20" y1="42.00" x2="381.20" y2="45.00" stroke="#111" stroke-width="1.0"/>
<line x1="380.20" y1="43.50" x2="382.20" y2="43.50" stroke="#111" stroke-width="1.1"/>
<line x1="385.20" y1="42.00" x2="385.20" y2="45.00" stroke="#111" stroke-width="1.0"/>
<line x1="384.20" y1="43.50" x2="386.20" y2="43.50" stroke="#111" stroke-width="1.1"/>
<line x1="388.60" y1="42.00" x2="388.60" y2="45.00" stroke="#111" stroke-width="1.0"/>
<line x1="387.60" y1="43.50" x2="389.60" y2="43.50" stroke="#111" stroke-width="1.1"/>
<line x1="393.90" y1="42.00" x2="393.90" y2="45.00" stroke="#111" stroke-width="1.0"/>
<line x1="392.90" y1="43.50" x2="394.90" y2="43.50" stroke="#111" stroke-width="1.1"/>
<line x1="396.00" y1="42.00" x2="396.00" y2="45.00" stroke="#111" stroke-width="1.0"/>
<line x1="395.00" y1="43.50" x2="397.00" y2="43.50" stroke="#111" stroke-width="1.1"/>
<line x1="398.60" y1="42.00" x2="398.60" y2="45.00" stroke="#111" stroke-width="1.0"/>
<line x1="397.60" y1="43.50" x2="399.60" y2="43.50" stroke="#111" stroke-width="1.1"/>
<line x1="402.00" y1="42.00" x2="402.00" y2="45.00" stroke="#111" stroke-width="1.0"/>
<line x1="401.00" y1="43.50" x2="403.00" y2="43.50" stroke="#111" stroke-width="1.1"/>
<line x1="405.40" y1="42.00" x2="405.40" y2="45.00" stroke="#111" stroke-width="1.0"/>
<line x1="404.40" y1="43.50" x2="406.40" y2="43.50" stroke="#111" stroke-width="1.1"/>
<line x1="408.70" y1="42.00" x2="408.70" y2="45.00" stroke="#111" stroke-width="1.0"/>
<line x1="407.70" y1="43.50" x2="409.70" y2="43.50" stroke="#111" stroke-width="1.1"/>
<line x1="422.20" y1="48.30" x2="422.20" y2="51.30" stroke="#111" stroke-width="1.0"/>
<line x1="421.20" y1="49.80" x2="423.20" y2="49.80" stroke="#111" stroke-width="1.1"/>
<line x1="425.60" y1="48.30" x2="425.60" y2="51.30" stroke="#111" stroke-width="1.0"/>
<line x1="424.60" y1="49.80" x2="426.60" y2="49.80" stroke="#111" stroke-width="1.1"/>
<line x1="429.60" y1="48.30" x2="429.60" y2="51.30" stroke="#111" stroke-width="1.0"/>
<line x1="428.60" y1="49.80" x2="430.60" y2="49.80" stroke="#111" stroke-width="1.1"/>
<line x1="433.00" y1="48.30" x2="433.00" y2="51.30" stroke="#111" stroke-width="1.0"/>
<line x1="432.00" y1="49.80" x2="434.00" y2="49.80" stroke="#111" stroke-width="1.1"/>
<line x1="436.50" y1="48.30" x2="436.50" y2="51.30" stroke="#111" stroke-width="1.0"/>
<line x1="435.50" y1="49.80" x2="437.50" y2="49.80" stroke="#111" stroke-width="1.1"/>
<line x1="440.00" y1="48.30" x2="440.00" y2="51.30" stroke="#111" stroke-width="1.0"/>
<line x1="439.00" y1="49.80" x2="441.00" y2="49.80" stroke="#111" stroke-width="1.1"/>
<line x1="443.50" y1="48.30" x2="443.50" y2="51.30" stroke="#111" stroke-width="1.0"/>
<line x1="442.50" y1="49.80" x2="444.50" y2="49.80" stroke="#111" stroke-width="1.1"/>
<line x1="446.50" y1="48.30" x2="446.50" y2="51.30" stroke="#111" stroke-width="1.0"/>
<line x1="445.50" y1="49.80" x2="447.50" y2="49.80" stroke="#111" stroke-width="1.1"/>
<line x1="449.80" y1="48.30" x2="449.80" y2="51.30" stroke="#111" stroke-width="1.0"/>
<line x1="448.80" y1="49.80" x2="450.80" y2="49.80" stroke="#111" stroke-width="1.1"/>
<line x1="453.00" y1="48.30" x2="453.00" y2="51.30" stroke="#111" stroke-width="1.0"/>
<line x1="452.00" y1="49.80" x2="454.00" y2="49.80" stroke="#111" stroke-width="1.1"/>
<line x1="455.50" y1="48.30" x2="455.50" y2="51.30" stroke="#111" stroke-width="1.0"/>
<line x1="454.50" y1="49.80" x2="456.50" y2="49.80" stroke="#111" stroke-width="1.1"/>
<line x1="463.50" y1="50.10" x2="463.50" y2="53.10" stroke="#111" stroke-width="1.0"/>
<line x1="462.50" y1="51.60" x2="464.50" y2="51.60" stroke="#111" stroke-width="1.1"/>
<line x1="467.00" y1="50.10" x2="467.00" y2="53.10" stroke="#111" stroke-width="1.0"/>
<line x1="466.00" y1="51.60" x2="468.00" y2="51.60" stroke="#111" stroke-width="1.1"/>
<line x1="470.00" y1="50.10" x2="470.00" y2="53.10" stroke="#111" stroke-width="1.0"/>
<line x1="469.00" y1="51.60" x2="471.00" y2="51.60" stroke="#111" stroke-width="1.1"/>
<line x1="473.50" y1="50.10" x2="473.50" y2="53.10" stroke="#111" stroke-width="1.0"/>
<line x1="472.50" y1="51.60" x2="474.50" y2="51.60" stroke="#111" stroke-width="1.1"/>
<line x1="477.00" y1="50.10" x2="477.00" y2="53.10" stroke="#111" stroke-width="1.0"/>
<line x1="476.00" y1="51.60" x2="478.00" y2="51.60" stroke="#111" stroke-width="1.1"/>
<line x1="479.60" y1="50.10" x2="479.60" y2="53.10" stroke="#111" stroke-width="1.0"/>
<line x1="478.60" y1="51.60" x2="480.60" y2="51.60" stroke="#111" stroke-width="1.1"/>
<line x1="356.20" y1="86.50" x2="356.20" y2="89.50" stroke="#111" stroke-width="1.0"/>
<line x1="355.20" y1="88.00" x2="357.20" y2="88.00" stroke="#111" stroke-width="1.1"/>
<line x1="407.40" y1="105.10" x2="407.40" y2="108.10" stroke="#111" stroke-width="1.0"/>
<line x1="406.40" y1="106.60" x2="408.40" y2="106.60" stroke="#111" stroke-width="1.1"/>
<line x1="422.10" y1="105.10" x2="422.10" y2="108.10" stroke="#111" stroke-width="1.0"/>
<line x1="421.10" y1="106.60" x2="423.10" y2="106.60" stroke="#111" stroke-width="1.1"/>
<line x1="435.20" y1="105.10" x2="435.20" y2="108.10" stroke="#111" stroke-width="1.0"/>
<line x1="434.20" y1="106.60" x2="436.20" y2="106.60" stroke="#111" stroke-width="1.1"/>
<text x="311.60" y="131.30" font-size="7" text-anchor="start" font-weight="normal" >3 Month</text>
<text x="311.60" y="139.80" font-size="7" text-anchor="start" font-weight="normal" >BCR-ABL/ABL</text>
<text x="359.30" y="139.80" font-size="7" text-anchor="start" font-weight="normal" >Total</text>
<text x="378.90" y="139.80" font-size="7" text-anchor="start" font-weight="normal" >Fail</text>
<text x="394.50" y="139.80" font-size="7" text-anchor="start" font-weight="normal" >3-Yr</text>
<line x1="312.70" y1="146.60" x2="323.80" y2="146.60" stroke="#111" stroke-width="1.4"/>
<text x="329.50" y="149.00" font-size="7" text-anchor="start" font-weight="normal" >1%</text>
<text x="374.60" y="149.00" font-size="7" text-anchor="end" font-weight="normal" >288</text>
<text x="385.40" y="149.00" font-size="7" text-anchor="middle" font-weight="normal" >22</text>
<text x="409.20" y="149.00" font-size="7" text-anchor="end" font-weight="normal" >96%</text>
<line x1="312.70" y1="155.90" x2="320.30" y2="155.90" stroke="#111" stroke-width="1.3" stroke-dasharray="2.5,2.6"/>
<text x="327.10" y="158.30" font-size="7" text-anchor="start" font-weight="normal" >&gt;1-10%</text>
<text x="374.60" y="158.30" font-size="7" text-anchor="end" font-weight="normal" >62</text>
<text x="385.40" y="158.30" font-size="7" text-anchor="middle" font-weight="normal" >5</text>
<text x="409.20" y="158.30" font-size="7" text-anchor="end" font-weight="normal" >98%</text>
<line x1="312.70" y1="165.10" x2="323.80" y2="165.10" stroke="#111" stroke-width="1.1" stroke-dasharray="1.7,1.0"/>
<text x="327.10" y="167.50" font-size="7" text-anchor="start" font-weight="normal" >&gt;10%</text>
<text x="374.60" y="167.50" font-size="7" text-anchor="end" font-weight="normal" >12</text>
<text x="385.40" y="167.50" font-size="7" text-anchor="middle" font-weight="normal" >5</text>
<text x="409.20" y="167.50" font-size="7" text-anchor="end" font-weight="normal" >61%</text>
<text x="345.90" y="175.60" font-size="7" text-anchor="start" font-weight="normal" >p &lt; 0.001</text>
<path d="M328.30,146.80 L326.60,147.80 L328.30,148.80 M326.50,149.90 H328.40" fill="none" stroke="#555" stroke-width="0.65"/>
<rect x="39.40" y="229.20" width="236.20" height="173.10" fill="none" stroke="#111" stroke-width="1.25"/>
<text x="0" y="0" font-size="11.7" font-weight="bold" transform="translate(50.40,223.80) scale(1,1.08)">C</text>
<line x1="64.60" y1="233.90" x2="64.60" y2="380.90" stroke="#111" stroke-width="1.3"/>
<line x1="64.00" y1="380.30" x2="274.30" y2="380.30" stroke="#111" stroke-width="1.3"/>
<text x="61.80" y="382.85" font-size="7" text-anchor="end" font-weight="normal" >0.0</text>
<line x1="63.10" y1="380.30" x2="64.60" y2="380.30" stroke="#111" stroke-width="0.8"/>
<text x="61.80" y="354.95" font-size="7" text-anchor="end" font-weight="normal" >0.2</text>
<line x1="63.10" y1="352.40" x2="64.60" y2="352.40" stroke="#111" stroke-width="0.8"/>
<text x="61.80" y="327.05" font-size="7" text-anchor="end" font-weight="normal" >0.4</text>
<line x1="63.10" y1="324.50" x2="64.60" y2="324.50" stroke="#111" stroke-width="0.8"/>
<text x="61.80" y="299.15" font-size="7" text-anchor="end" font-weight="normal" >0.6</text>
<line x1="63.10" y1="296.60" x2="64.60" y2="296.60" stroke="#111" stroke-width="0.8"/>
<text x="61.80" y="271.25" font-size="7" text-anchor="end" font-weight="normal" >0.8</text>
<line x1="63.10" y1="268.70" x2="64.60" y2="268.70" stroke="#111" stroke-width="0.8"/>
<text x="61.80" y="243.35" font-size="7" text-anchor="end" font-weight="normal" >1.0</text>
<line x1="63.10" y1="240.80" x2="64.60" y2="240.80" stroke="#111" stroke-width="0.8"/>
<text x="64.60" y="389.60" font-size="7" text-anchor="middle" font-weight="normal" >0</text>
<line x1="64.60" y1="378.80" x2="64.60" y2="380.30" stroke="#111" stroke-width="0.8"/>
<text x="80.32" y="389.60" font-size="7" text-anchor="middle" font-weight="normal" >12</text>
<line x1="80.32" y1="378.80" x2="80.32" y2="380.30" stroke="#111" stroke-width="0.8"/>
<text x="96.04" y="389.60" font-size="7" text-anchor="middle" font-weight="normal" >24</text>
<line x1="96.04" y1="378.80" x2="96.04" y2="380.30" stroke="#111" stroke-width="0.8"/>
<text x="111.76" y="389.60" font-size="7" text-anchor="middle" font-weight="normal" >36</text>
<line x1="111.76" y1="378.80" x2="111.76" y2="380.30" stroke="#111" stroke-width="0.8"/>
<text x="127.48" y="389.60" font-size="7" text-anchor="middle" font-weight="normal" >48</text>
<line x1="127.48" y1="378.80" x2="127.48" y2="380.30" stroke="#111" stroke-width="0.8"/>
<text x="143.20" y="389.60" font-size="7" text-anchor="middle" font-weight="normal" >60</text>
<line x1="143.20" y1="378.80" x2="143.20" y2="380.30" stroke="#111" stroke-width="0.8"/>
<text x="158.92" y="389.60" font-size="7" text-anchor="middle" font-weight="normal" >72</text>
<line x1="158.92" y1="378.80" x2="158.92" y2="380.30" stroke="#111" stroke-width="0.8"/>
<text x="174.64" y="389.60" font-size="7" text-anchor="middle" font-weight="normal" >84</text>
<line x1="174.64" y1="378.80" x2="174.64" y2="380.30" stroke="#111" stroke-width="0.8"/>
<text x="190.36" y="389.60" font-size="7" text-anchor="middle" font-weight="normal" >96</text>
<line x1="190.36" y1="378.80" x2="190.36" y2="380.30" stroke="#111" stroke-width="0.8"/>
<text x="206.08" y="389.60" font-size="7" text-anchor="middle" font-weight="normal" >108</text>
<line x1="206.08" y1="378.80" x2="206.08" y2="380.30" stroke="#111" stroke-width="0.8"/>
<text x="221.80" y="389.60" font-size="7" text-anchor="middle" font-weight="normal" >120</text>
<line x1="221.80" y1="378.80" x2="221.80" y2="380.30" stroke="#111" stroke-width="0.8"/>
<text x="237.52" y="389.60" font-size="7" text-anchor="middle" font-weight="normal" >132</text>
<line x1="237.52" y1="378.80" x2="237.52" y2="380.30" stroke="#111" stroke-width="0.8"/>
<text x="253.24" y="389.60" font-size="7" text-anchor="middle" font-weight="normal" >144</text>
<line x1="253.24" y1="378.80" x2="253.24" y2="380.30" stroke="#111" stroke-width="0.8"/>
<text x="268.96" y="389.60" font-size="7" text-anchor="middle" font-weight="normal" >156</text>
<line x1="268.96" y1="378.80" x2="268.96" y2="380.30" stroke="#111" stroke-width="0.8"/>
<text x="168.90" y="400.40" font-size="7.0" text-anchor="middle" font-weight="normal" >Months</text>
<text x="0" y="0" font-size="5.3" text-anchor="middle" style="stroke-width:0.12px" transform="translate(45.60,306.80) rotate(-90) scale(1.355,1)">Event-Free Survival Probability</text>
<path d="M71.80,240.80 L77.50,241.20 L83.30,242.20 L87.90,242.40 L94.80,243.10 L100.60,243.30 L104.00,244.10 L117.90,244.10 L121.40,245.00 L126.00,246.30 L131.00,248.50 L136.00,250.00 L140.00,251.30 L161.50,251.50 L166.00,254.00 L170.00,255.60 L192.30,255.60 L193.80,258.80 L215.60,258.80 L216.30,261.90 L248.10,261.90" fill="none" stroke="#111" stroke-width="1.8" stroke-linejoin="miter"/>
<path d="M71.80,240.80 L77.50,241.20 L83.30,242.20 L87.90,242.40 L90.50,245.50 L90.50,248.50 L93.50,248.50 L93.50,251.50 L96.00,251.50 L96.00,254.50 L99.40,254.50 L99.40,257.50 L102.90,257.50 L102.90,260.50 L105.20,260.50 L105.20,263.50 L161.70,263.50 L161.70,270.50 L213.10,270.50 L213.10,275.50 L245.60,275.50" fill="none" stroke="#222" stroke-width="1.0" stroke-linejoin="miter" stroke-dasharray="0.8,0.6"/>
<path d="M71.60,240.80 L71.60,240.80 L71.60,257.90 L79.30,257.90 L79.30,271.30 L143.30,271.30 L143.30,281.40 L159.20,281.40 L159.20,293.10 L241.70,293.10" fill="none" stroke="#111" stroke-width="1.2" stroke-linejoin="miter" stroke-dasharray="3.4,2.2"/>
<ellipse cx="72.30" cy="240.84" rx="1.45" ry="1.55" fill="#111"/>
<ellipse cx="72.50" cy="240.85" rx="1.45" ry="1.55" fill="#111"/>
<ellipse cx="75.80" cy="241.08" rx="1.45" ry="1.55" fill="#111"/>
<ellipse cx="77.50" cy="241.20" rx="1.45" ry="1.55" fill="#111"/>
<ellipse cx="79.30" cy="241.51" rx="1.45" ry="1.55" fill="#111"/>
<ellipse cx="82.10" cy="241.99" rx="1.45" ry="1.55" fill="#111"/>
<ellipse cx="85.00" cy="242.27" rx="1.45" ry="1.55" fill="#111"/>
<ellipse cx="87.90" cy="242.40" rx="1.45" ry="1.55" fill="#111"/>
<ellipse cx="90.40" cy="242.65" rx="1.45" ry="1.55" fill="#111"/>
<ellipse cx="92.90" cy="242.91" rx="1.45" ry="1.55" fill="#111"/>
<ellipse cx="95.40" cy="243.12" rx="1.45" ry="1.55" fill="#111"/>
<ellipse cx="98.60" cy="243.23" rx="1.45" ry="1.55" fill="#111"/>
<ellipse cx="101.80" cy="243.58" rx="1.45" ry="1.55" fill="#111"/>
<ellipse cx="105.20" cy="244.10" rx="1.45" ry="1.55" fill="#111"/>
<ellipse cx="108.10" cy="244.10" rx="1.45" ry="1.55" fill="#111"/>
<ellipse cx="111.60" cy="244.10" rx="1.45" ry="1.55" fill="#111"/>
<ellipse cx="115.60" cy="244.10" rx="1.45" ry="1.55" fill="#111"/>
<ellipse cx="119.10" cy="244.41" rx="1.45" ry="1.55" fill="#111"/>
<ellipse cx="123.00" cy="245.45" rx="1.45" ry="1.55" fill="#111"/>
<ellipse cx="126.00" cy="246.30" rx="1.45" ry="1.55" fill="#111"/>
<ellipse cx="129.00" cy="247.62" rx="1.45" ry="1.55" fill="#111"/>
<ellipse cx="131.50" cy="248.65" rx="1.45" ry="1.55" fill="#111"/>
<ellipse cx="134.00" cy="249.40" rx="1.45" ry="1.55" fill="#111"/>
<ellipse cx="137.00" cy="250.32" rx="1.45" ry="1.55" fill="#111"/>
<ellipse cx="140.00" cy="251.30" rx="1.45" ry="1.55" fill="#111"/>
<ellipse cx="143.00" cy="251.33" rx="1.45" ry="1.55" fill="#111"/>
<ellipse cx="146.00" cy="251.36" rx="1.45" ry="1.55" fill="#111"/>
<ellipse cx="150.00" cy="251.39" rx="1.45" ry="1.55" fill="#111"/>
<ellipse cx="154.00" cy="251.43" rx="1.45" ry="1.55" fill="#111"/>
<ellipse cx="158.00" cy="251.47" rx="1.45" ry="1.55" fill="#111"/>
<ellipse cx="161.33" cy="251.50" rx="1.45" ry="1.55" fill="#111"/>
<ellipse cx="164.67" cy="253.26" rx="1.45" ry="1.55" fill="#111"/>
<ellipse cx="168.00" cy="254.80" rx="1.45" ry="1.55" fill="#111"/>
<ellipse cx="172.00" cy="255.60" rx="1.45" ry="1.55" fill="#111"/>
<ellipse cx="175.00" cy="255.60" rx="1.45" ry="1.55" fill="#111"/>
<ellipse cx="179.00" cy="255.60" rx="1.45" ry="1.55" fill="#111"/>
<ellipse cx="183.00" cy="255.60" rx="1.45" ry="1.55" fill="#111"/>
<ellipse cx="186.00" cy="255.60" rx="1.45" ry="1.55" fill="#111"/>
<ellipse cx="190.00" cy="255.60" rx="1.45" ry="1.55" fill="#111"/>
<ellipse cx="193.15" cy="257.41" rx="1.45" ry="1.55" fill="#111"/>
<ellipse cx="196.30" cy="258.80" rx="1.45" ry="1.55" fill="#111"/>
<ellipse cx="199.40" cy="258.80" rx="1.45" ry="1.55" fill="#111"/>
<ellipse cx="202.50" cy="258.80" rx="1.45" ry="1.55" fill="#111"/>
<ellipse cx="205.60" cy="258.80" rx="1.45" ry="1.55" fill="#111"/>
<ellipse cx="208.80" cy="258.80" rx="1.45" ry="1.55" fill="#111"/>
<ellipse cx="211.90" cy="258.80" rx="1.45" ry="1.55" fill="#111"/>
<ellipse cx="214.40" cy="258.80" rx="1.45" ry="1.55" fill="#111"/>
<ellipse cx="218.10" cy="261.90" rx="1.45" ry="1.55" fill="#111"/>
<ellipse cx="220.60" cy="261.90" rx="1.45" ry="1.55" fill="#111"/>
<ellipse cx="223.10" cy="261.90" rx="1.45" ry="1.55" fill="#111"/>
<ellipse cx="226.30" cy="261.90" rx="1.45" ry="1.55" fill="#111"/>
<ellipse cx="228.80" cy="261.90" rx="1.45" ry="1.55" fill="#111"/>
<ellipse cx="230.60" cy="261.90" rx="1.45" ry="1.55" fill="#111"/>
<ellipse cx="233.10" cy="261.90" rx="1.45" ry="1.55" fill="#111"/>
<ellipse cx="236.90" cy="261.90" rx="1.45" ry="1.55" fill="#111"/>
<ellipse cx="240.00" cy="261.90" rx="1.45" ry="1.55" fill="#111"/>
<ellipse cx="243.10" cy="261.90" rx="1.45" ry="1.55" fill="#111"/>
<ellipse cx="247.50" cy="261.90" rx="1.45" ry="1.55" fill="#111"/>
<line x1="89.50" y1="242.81" x2="89.50" y2="245.81" stroke="#111" stroke-width="1.0"/>
<line x1="88.50" y1="244.31" x2="90.50" y2="244.31" stroke="#111" stroke-width="1.1"/>
<line x1="92.30" y1="247.00" x2="92.30" y2="250.00" stroke="#111" stroke-width="1.0"/>
<line x1="91.30" y1="248.50" x2="93.30" y2="248.50" stroke="#111" stroke-width="1.1"/>
<line x1="97.00" y1="253.00" x2="97.00" y2="256.00" stroke="#111" stroke-width="1.0"/>
<line x1="96.00" y1="254.50" x2="98.00" y2="254.50" stroke="#111" stroke-width="1.1"/>
<line x1="100.50" y1="256.00" x2="100.50" y2="259.00" stroke="#111" stroke-width="1.0"/>
<line x1="99.50" y1="257.50" x2="101.50" y2="257.50" stroke="#111" stroke-width="1.1"/>
<line x1="104.70" y1="259.00" x2="104.70" y2="262.00" stroke="#111" stroke-width="1.0"/>
<line x1="103.70" y1="260.50" x2="105.70" y2="260.50" stroke="#111" stroke-width="1.1"/>
<line x1="126.20" y1="262.00" x2="126.20" y2="265.00" stroke="#111" stroke-width="1.0"/>
<line x1="125.20" y1="263.50" x2="127.20" y2="263.50" stroke="#111" stroke-width="1.1"/>
<line x1="148.50" y1="262.00" x2="148.50" y2="265.00" stroke="#111" stroke-width="1.0"/>
<line x1="147.50" y1="263.50" x2="149.50" y2="263.50" stroke="#111" stroke-width="1.1"/>
<line x1="166.00" y1="269.00" x2="166.00" y2="272.00" stroke="#111" stroke-width="1.0"/>
<line x1="165.00" y1="270.50" x2="167.00" y2="270.50" stroke="#111" stroke-width="1.1"/>
<line x1="170.00" y1="269.00" x2="170.00" y2="272.00" stroke="#111" stroke-width="1.0"/>
<line x1="169.00" y1="270.50" x2="171.00" y2="270.50" stroke="#111" stroke-width="1.1"/>
<line x1="175.00" y1="269.00" x2="175.00" y2="272.00" stroke="#111" stroke-width="1.0"/>
<line x1="174.00" y1="270.50" x2="176.00" y2="270.50" stroke="#111" stroke-width="1.1"/>
<line x1="180.00" y1="269.00" x2="180.00" y2="272.00" stroke="#111" stroke-width="1.0"/>
<line x1="179.00" y1="270.50" x2="181.00" y2="270.50" stroke="#111" stroke-width="1.1"/>
<line x1="185.00" y1="269.00" x2="185.00" y2="272.00" stroke="#111" stroke-width="1.0"/>
<line x1="184.00" y1="270.50" x2="186.00" y2="270.50" stroke="#111" stroke-width="1.1"/>
<line x1="189.00" y1="269.00" x2="189.00" y2="272.00" stroke="#111" stroke-width="1.0"/>
<line x1="188.00" y1="270.50" x2="190.00" y2="270.50" stroke="#111" stroke-width="1.1"/>
<line x1="192.50" y1="269.00" x2="192.50" y2="272.00" stroke="#111" stroke-width="1.0"/>
<line x1="191.50" y1="270.50" x2="193.50" y2="270.50" stroke="#111" stroke-width="1.1"/>
<line x1="199.40" y1="269.00" x2="199.40" y2="272.00" stroke="#111" stroke-width="1.0"/>
<line x1="198.40" y1="270.50" x2="200.40" y2="270.50" stroke="#111" stroke-width="1.1"/>
<line x1="205.60" y1="269.00" x2="205.60" y2="272.00" stroke="#111" stroke-width="1.0"/>
<line x1="204.60" y1="270.50" x2="206.60" y2="270.50" stroke="#111" stroke-width="1.1"/>
<line x1="208.80" y1="269.00" x2="208.80" y2="272.00" stroke="#111" stroke-width="1.0"/>
<line x1="207.80" y1="270.50" x2="209.80" y2="270.50" stroke="#111" stroke-width="1.1"/>
<line x1="211.90" y1="269.00" x2="211.90" y2="272.00" stroke="#111" stroke-width="1.0"/>
<line x1="210.90" y1="270.50" x2="212.90" y2="270.50" stroke="#111" stroke-width="1.1"/>
<line x1="222.50" y1="274.00" x2="222.50" y2="277.00" stroke="#111" stroke-width="1.0"/>
<line x1="221.50" y1="275.50" x2="223.50" y2="275.50" stroke="#111" stroke-width="1.1"/>
<line x1="225.60" y1="274.00" x2="225.60" y2="277.00" stroke="#111" stroke-width="1.0"/>
<line x1="224.60" y1="275.50" x2="226.60" y2="275.50" stroke="#111" stroke-width="1.1"/>
<line x1="227.50" y1="274.00" x2="227.50" y2="277.00" stroke="#111" stroke-width="1.0"/>
<line x1="226.50" y1="275.50" x2="228.50" y2="275.50" stroke="#111" stroke-width="1.1"/>
<line x1="232.50" y1="274.00" x2="232.50" y2="277.00" stroke="#111" stroke-width="1.0"/>
<line x1="231.50" y1="275.50" x2="233.50" y2="275.50" stroke="#111" stroke-width="1.1"/>
<line x1="235.00" y1="274.00" x2="235.00" y2="277.00" stroke="#111" stroke-width="1.0"/>
<line x1="234.00" y1="275.50" x2="236.00" y2="275.50" stroke="#111" stroke-width="1.1"/>
<line x1="238.10" y1="274.00" x2="238.10" y2="277.00" stroke="#111" stroke-width="1.0"/>
<line x1="237.10" y1="275.50" x2="239.10" y2="275.50" stroke="#111" stroke-width="1.1"/>
<line x1="241.30" y1="274.00" x2="241.30" y2="277.00" stroke="#111" stroke-width="1.0"/>
<line x1="240.30" y1="275.50" x2="242.30" y2="275.50" stroke="#111" stroke-width="1.1"/>
<line x1="245.00" y1="274.00" x2="245.00" y2="277.00" stroke="#111" stroke-width="1.0"/>
<line x1="244.00" y1="275.50" x2="246.00" y2="275.50" stroke="#111" stroke-width="1.1"/>
<line x1="75.20" y1="256.40" x2="75.20" y2="259.40" stroke="#111" stroke-width="1.0"/>
<line x1="74.20" y1="257.90" x2="76.20" y2="257.90" stroke="#111" stroke-width="1.1"/>
<line x1="92.50" y1="269.80" x2="92.50" y2="272.80" stroke="#111" stroke-width="1.0"/>
<line x1="91.50" y1="271.30" x2="93.50" y2="271.30" stroke="#111" stroke-width="1.1"/>
<line x1="93.70" y1="269.80" x2="93.70" y2="272.80" stroke="#111" stroke-width="1.0"/>
<line x1="92.70" y1="271.30" x2="94.70" y2="271.30" stroke="#111" stroke-width="1.1"/>
<line x1="104.10" y1="269.80" x2="104.10" y2="272.80" stroke="#111" stroke-width="1.0"/>
<line x1="103.10" y1="271.30" x2="105.10" y2="271.30" stroke="#111" stroke-width="1.1"/>
<line x1="121.40" y1="269.80" x2="121.40" y2="272.80" stroke="#111" stroke-width="1.0"/>
<line x1="120.40" y1="271.30" x2="122.40" y2="271.30" stroke="#111" stroke-width="1.1"/>
<line x1="123.70" y1="269.80" x2="123.70" y2="272.80" stroke="#111" stroke-width="1.0"/>
<line x1="122.70" y1="271.30" x2="124.70" y2="271.30" stroke="#111" stroke-width="1.1"/>
<line x1="125.40" y1="269.80" x2="125.40" y2="272.80" stroke="#111" stroke-width="1.0"/>
<line x1="124.40" y1="271.30" x2="126.40" y2="271.30" stroke="#111" stroke-width="1.1"/>
<line x1="134.60" y1="269.80" x2="134.60" y2="272.80" stroke="#111" stroke-width="1.0"/>
<line x1="133.60" y1="271.30" x2="135.60" y2="271.30" stroke="#111" stroke-width="1.1"/>
<line x1="146.50" y1="279.90" x2="146.50" y2="282.90" stroke="#111" stroke-width="1.0"/>
<line x1="145.50" y1="281.40" x2="147.50" y2="281.40" stroke="#111" stroke-width="1.1"/>
<line x1="174.00" y1="291.60" x2="174.00" y2="294.60" stroke="#111" stroke-width="1.0"/>
<line x1="173.00" y1="293.10" x2="175.00" y2="293.10" stroke="#111" stroke-width="1.1"/>
<line x1="176.10" y1="291.60" x2="176.10" y2="294.60" stroke="#111" stroke-width="1.0"/>
<line x1="175.10" y1="293.10" x2="177.10" y2="293.10" stroke="#111" stroke-width="1.1"/>
<line x1="192.00" y1="291.60" x2="192.00" y2="294.60" stroke="#111" stroke-width="1.0"/>
<line x1="191.00" y1="293.10" x2="193.00" y2="293.10" stroke="#111" stroke-width="1.1"/>
<line x1="199.30" y1="291.60" x2="199.30" y2="294.60" stroke="#111" stroke-width="1.0"/>
<line x1="198.30" y1="293.10" x2="200.30" y2="293.10" stroke="#111" stroke-width="1.1"/>
<line x1="201.50" y1="291.60" x2="201.50" y2="294.60" stroke="#111" stroke-width="1.0"/>
<line x1="200.50" y1="293.10" x2="202.50" y2="293.10" stroke="#111" stroke-width="1.1"/>
<line x1="205.70" y1="291.60" x2="205.70" y2="294.60" stroke="#111" stroke-width="1.0"/>
<line x1="204.70" y1="293.10" x2="206.70" y2="293.10" stroke="#111" stroke-width="1.1"/>
<line x1="231.00" y1="291.60" x2="231.00" y2="294.60" stroke="#111" stroke-width="1.0"/>
<line x1="230.00" y1="293.10" x2="232.00" y2="293.10" stroke="#111" stroke-width="1.1"/>
<line x1="234.30" y1="291.60" x2="234.30" y2="294.60" stroke="#111" stroke-width="1.0"/>
<line x1="233.30" y1="293.10" x2="235.30" y2="293.10" stroke="#111" stroke-width="1.1"/>
<line x1="237.40" y1="291.60" x2="237.40" y2="294.60" stroke="#111" stroke-width="1.0"/>
<line x1="236.40" y1="293.10" x2="238.40" y2="293.10" stroke="#111" stroke-width="1.1"/>
<line x1="240.60" y1="291.60" x2="240.60" y2="294.60" stroke="#111" stroke-width="1.0"/>
<line x1="239.60" y1="293.10" x2="241.60" y2="293.10" stroke="#111" stroke-width="1.1"/>
<text x="80.20" y="337.30" font-size="7" text-anchor="start" font-weight="normal" >6 Month</text>
<text x="80.20" y="345.60" font-size="7" text-anchor="start" font-weight="normal" >Ph+</text>
<text x="103.30" y="345.60" font-size="7" text-anchor="start" font-weight="normal" >Total</text>
<text x="121.60" y="345.60" font-size="7" text-anchor="start" font-weight="normal" >Fail</text>
<text x="135.10" y="345.60" font-size="7" text-anchor="start" font-weight="normal" >3-Yr</text>
<line x1="67.70" y1="351.60" x2="78.30" y2="351.60" stroke="#111" stroke-width="1.4"/>
<text x="81.20" y="354.00" font-size="7" text-anchor="start" font-weight="normal" >0%</text>
<text x="115.70" y="354.00" font-size="7" text-anchor="end" font-weight="normal" >347</text>
<text x="131.50" y="354.00" font-size="7" text-anchor="end" font-weight="normal" >29</text>
<text x="151.90" y="354.00" font-size="7" text-anchor="end" font-weight="normal" >97%</text>
<line x1="67.70" y1="359.90" x2="78.30" y2="359.90" stroke="#555" stroke-width="1.0" stroke-dasharray="0.9,0.8"/>
<text x="82.80" y="362.30" font-size="7" text-anchor="start" font-weight="normal" >1-35%</text>
<text x="115.70" y="362.30" font-size="7" text-anchor="end" font-weight="normal" >53</text>
<text x="131.50" y="362.30" font-size="7" text-anchor="end" font-weight="normal" >11</text>
<text x="151.90" y="362.30" font-size="7" text-anchor="end" font-weight="normal" >84%</text>
<line x1="67.70" y1="368.10" x2="76.10" y2="368.10" stroke="#111" stroke-width="1.3" stroke-dasharray="2.6,3.2"/>
<text x="81.70" y="370.50" font-size="7" text-anchor="start" font-weight="normal" >&gt;35%</text>
<text x="115.70" y="370.50" font-size="7" text-anchor="end" font-weight="normal" >24</text>
<text x="131.50" y="370.50" font-size="7" text-anchor="end" font-weight="normal" >7</text>
<text x="151.90" y="370.50" font-size="7" text-anchor="end" font-weight="normal" >78%</text>
<text x="94.20" y="378.80" font-size="7" text-anchor="start" font-weight="normal" >p &lt; 0.001</text>
<rect x="283.60" y="229.50" width="234.30" height="173.30" fill="none" stroke="#111" stroke-width="1.25"/>
<text x="0" y="0" font-size="11.7" font-weight="bold" transform="translate(296.80,223.50) scale(1,1.08)">D</text>
<line x1="308.70" y1="234.60" x2="308.70" y2="380.70" stroke="#111" stroke-width="1.3"/>
<line x1="308.10" y1="380.10" x2="516.50" y2="380.10" stroke="#111" stroke-width="1.3"/>
<text x="305.90" y="382.35" font-size="7" text-anchor="end" font-weight="normal" >0.0</text>
<line x1="307.20" y1="379.80" x2="308.70" y2="379.80" stroke="#111" stroke-width="0.8"/>
<text x="305.90" y="354.69" font-size="7" text-anchor="end" font-weight="normal" >0.2</text>
<line x1="307.20" y1="352.14" x2="308.70" y2="352.14" stroke="#111" stroke-width="0.8"/>
<text x="305.90" y="327.03" font-size="7" text-anchor="end" font-weight="normal" >0.4</text>
<line x1="307.20" y1="324.48" x2="308.70" y2="324.48" stroke="#111" stroke-width="0.8"/>
<text x="305.90" y="299.37" font-size="7" text-anchor="end" font-weight="normal" >0.6</text>
<line x1="307.20" y1="296.82" x2="308.70" y2="296.82" stroke="#111" stroke-width="0.8"/>
<text x="305.90" y="271.71" font-size="7" text-anchor="end" font-weight="normal" >0.8</text>
<line x1="307.20" y1="269.16" x2="308.70" y2="269.16" stroke="#111" stroke-width="0.8"/>
<text x="305.90" y="244.05" font-size="7" text-anchor="end" font-weight="normal" >1.0</text>
<line x1="307.20" y1="241.50" x2="308.70" y2="241.50" stroke="#111" stroke-width="0.8"/>
<text x="308.70" y="389.30" font-size="7" text-anchor="middle" font-weight="normal" >0</text>
<line x1="308.70" y1="378.60" x2="308.70" y2="380.10" stroke="#111" stroke-width="0.8"/>
<text x="324.26" y="389.30" font-size="7" text-anchor="middle" font-weight="normal" >12</text>
<line x1="324.26" y1="378.60" x2="324.26" y2="380.10" stroke="#111" stroke-width="0.8"/>
<text x="339.83" y="389.30" font-size="7" text-anchor="middle" font-weight="normal" >24</text>
<line x1="339.83" y1="378.60" x2="339.83" y2="380.10" stroke="#111" stroke-width="0.8"/>
<text x="355.39" y="389.30" font-size="7" text-anchor="middle" font-weight="normal" >36</text>
<line x1="355.39" y1="378.60" x2="355.39" y2="380.10" stroke="#111" stroke-width="0.8"/>
<text x="370.96" y="389.30" font-size="7" text-anchor="middle" font-weight="normal" >48</text>
<line x1="370.96" y1="378.60" x2="370.96" y2="380.10" stroke="#111" stroke-width="0.8"/>
<text x="386.52" y="389.30" font-size="7" text-anchor="middle" font-weight="normal" >60</text>
<line x1="386.52" y1="378.60" x2="386.52" y2="380.10" stroke="#111" stroke-width="0.8"/>
<text x="402.08" y="389.30" font-size="7" text-anchor="middle" font-weight="normal" >72</text>
<line x1="402.08" y1="378.60" x2="402.08" y2="380.10" stroke="#111" stroke-width="0.8"/>
<text x="417.65" y="389.30" font-size="7" text-anchor="middle" font-weight="normal" >84</text>
<line x1="417.65" y1="378.60" x2="417.65" y2="380.10" stroke="#111" stroke-width="0.8"/>
<text x="433.21" y="389.30" font-size="7" text-anchor="middle" font-weight="normal" >96</text>
<line x1="433.21" y1="378.60" x2="433.21" y2="380.10" stroke="#111" stroke-width="0.8"/>
<text x="448.78" y="389.30" font-size="7" text-anchor="middle" font-weight="normal" >108</text>
<line x1="448.78" y1="378.60" x2="448.78" y2="380.10" stroke="#111" stroke-width="0.8"/>
<text x="464.34" y="389.30" font-size="7" text-anchor="middle" font-weight="normal" >120</text>
<line x1="464.34" y1="378.60" x2="464.34" y2="380.10" stroke="#111" stroke-width="0.8"/>
<text x="479.90" y="389.30" font-size="7" text-anchor="middle" font-weight="normal" >132</text>
<line x1="479.90" y1="378.60" x2="479.90" y2="380.10" stroke="#111" stroke-width="0.8"/>
<text x="495.47" y="389.30" font-size="7" text-anchor="middle" font-weight="normal" >144</text>
<line x1="495.47" y1="378.60" x2="495.47" y2="380.10" stroke="#111" stroke-width="0.8"/>
<text x="511.03" y="389.30" font-size="7" text-anchor="middle" font-weight="normal" >156</text>
<line x1="511.03" y1="378.60" x2="511.03" y2="380.10" stroke="#111" stroke-width="0.8"/>
<text x="412.30" y="400.30" font-size="7.0" text-anchor="middle" font-weight="normal" >Months</text>
<text x="0" y="0" font-size="5.3" text-anchor="middle" style="stroke-width:0.12px" transform="translate(290.60,307.10) rotate(-90) scale(1.336,1)">Event-Free Survival Probability</text>
<line x1="308.70" y1="241.30" x2="315.30" y2="241.30" stroke="#111" stroke-width="1.4"/>
<path d="M315.20,241.30 L330.80,241.50 L338.80,242.30 L346.90,243.80 L353.80,244.40 L363.50,244.60 L370.00,246.40 L375.00,247.80 L380.00,249.00 L385.00,250.50 L403.80,250.60 L408.00,252.00 L412.00,253.30 L435.20,253.40 L439.20,257.40 L458.10,257.40 L459.40,261.90 L480.30,261.90" fill="none" stroke="#111" stroke-width="1.8" stroke-linejoin="miter"/>
<path d="M315.20,241.30 L317.20,241.30 L317.20,246.50 L323.80,246.50 L323.80,251.60 L331.50,251.60 L331.50,269.10 L345.60,269.10 L345.60,275.50 L369.00,275.50 L369.00,283.20 L376.50,283.20 L376.50,292.50 L470.60,292.50" fill="none" stroke="#111" stroke-width="1.2" stroke-linejoin="miter" stroke-dasharray="3.4,2.2"/>
<path d="M314,241h1.1v1.1h-1.1zM314,241h1.1v1.1h-1.1zM314,243h1.1v1.1h-1.1zM314,245h1.1v1.1h-1.1zM314,247h1.1v1.1h-1.1zM314,249h1.1v1.1h-1.1zM314,251h1.1v1.1h-1.1zM314,253h1.1v1.1h-1.1zM314,255h1.1v1.1h-1.1zM314,257h1.1v1.1h-1.1zM314,258h1.1v1.1h-1.1zM316,258h1.1v1.1h-1.1zM318,258h1.1v1.1h-1.1zM320,258h1.1v1.1h-1.1zM322,258h1.1v1.1h-1.1zM324,258h1.1v1.1h-1.1zM326,258h1.1v1.1h-1.1zM328,258h1.1v1.1h-1.1zM330,258h1.1v1.1h-1.1zM332,258h1.1v1.1h-1.1zM334,258h1.1v1.1h-1.1zM336,258h1.1v1.1h-1.1zM338,258h1.1v1.1h-1.1zM340,258h1.1v1.1h-1.1zM342,258h1.1v1.1h-1.1zM344,258h1.1v1.1h-1.1zM346,258h1.1v1.1h-1.1zM348,258h1.1v1.1h-1.1zM350,258h1.1v1.1h-1.1zM352,258h1.1v1.1h-1.1zM354,258h1.1v1.1h-1.1zM356,258h1.1v1.1h-1.1zM358,258h1.1v1.1h-1.1zM360,258h1.1v1.1h-1.1zM362,258h1.1v1.1h-1.1zM364,258h1.1v1.1h-1.1zM366,258h1.1v1.1h-1.1zM368,258h1.1v1.1h-1.1zM370,258h1.1v1.1h-1.1zM372,258h1.1v1.1h-1.1zM374,258h1.1v1.1h-1.1zM376,258h1.1v1.1h-1.1zM378,258h1.1v1.1h-1.1zM380,258h1.1v1.1h-1.1zM382,258h1.1v1.1h-1.1zM384,258h1.1v1.1h-1.1zM386,258h1.1v1.1h-1.1zM388,258h1.1v1.1h-1.1zM390,258h1.1v1.1h-1.1zM392,258h1.1v1.1h-1.1zM394,258h1.1v1.1h-1.1zM396,258h1.1v1.1h-1.1zM398,258h1.1v1.1h-1.1zM400,258h1.1v1.1h-1.1zM402,258h1.1v1.1h-1.1zM404,258h1.1v1.1h-1.1zM406,258h1.1v1.1h-1.1zM408,258h1.1v1.1h-1.1zM410,258h1.1v1.1h-1.1zM412,258h1.1v1.1h-1.1zM414,258h1.1v1.1h-1.1zM416,258h1.1v1.1h-1.1zM418,258h1.1v1.1h-1.1zM420,258h1.1v1.1h-1.1zM422,258h1.1v1.1h-1.1zM424,258h1.1v1.1h-1.1zM426,258h1.1v1.1h-1.1zM428,258h1.1v1.1h-1.1zM430,258h1.1v1.1h-1.1zM432,258h1.1v1.1h-1.1zM434,258h1.1v1.1h-1.1zM436,258h1.1v1.1h-1.1z" fill="#000"/>
<ellipse cx="316.00" cy="241.31" rx="1.45" ry="1.55" fill="#111"/>
<ellipse cx="316.30" cy="241.31" rx="1.45" ry="1.55" fill="#111"/>
<ellipse cx="319.80" cy="241.36" rx="1.45" ry="1.55" fill="#111"/>
<ellipse cx="321.50" cy="241.38" rx="1.45" ry="1.55" fill="#111"/>
<ellipse cx="323.30" cy="241.40" rx="1.45" ry="1.55" fill="#111"/>
<ellipse cx="327.30" cy="241.46" rx="1.45" ry="1.55" fill="#111"/>
<ellipse cx="331.30" cy="241.55" rx="1.45" ry="1.55" fill="#111"/>
<ellipse cx="333.80" cy="241.80" rx="1.45" ry="1.55" fill="#111"/>
<ellipse cx="336.30" cy="242.05" rx="1.45" ry="1.55" fill="#111"/>
<ellipse cx="338.80" cy="242.30" rx="1.45" ry="1.55" fill="#111"/>
<ellipse cx="340.60" cy="242.63" rx="1.45" ry="1.55" fill="#111"/>
<ellipse cx="343.75" cy="243.22" rx="1.45" ry="1.55" fill="#111"/>
<ellipse cx="346.90" cy="243.80" rx="1.45" ry="1.55" fill="#111"/>
<ellipse cx="349.80" cy="244.05" rx="1.45" ry="1.55" fill="#111"/>
<ellipse cx="352.70" cy="244.30" rx="1.45" ry="1.55" fill="#111"/>
<ellipse cx="355.00" cy="244.42" rx="1.45" ry="1.55" fill="#111"/>
<ellipse cx="356.10" cy="244.45" rx="1.45" ry="1.55" fill="#111"/>
<ellipse cx="359.60" cy="244.52" rx="1.45" ry="1.55" fill="#111"/>
<ellipse cx="363.50" cy="244.60" rx="1.45" ry="1.55" fill="#111"/>
<ellipse cx="366.00" cy="245.29" rx="1.45" ry="1.55" fill="#111"/>
<ellipse cx="368.50" cy="245.98" rx="1.45" ry="1.55" fill="#111"/>
<ellipse cx="371.00" cy="246.68" rx="1.45" ry="1.55" fill="#111"/>
<ellipse cx="373.30" cy="247.32" rx="1.45" ry="1.55" fill="#111"/>
<ellipse cx="375.60" cy="247.94" rx="1.45" ry="1.55" fill="#111"/>
<ellipse cx="378.00" cy="248.52" rx="1.45" ry="1.55" fill="#111"/>
<ellipse cx="380.80" cy="249.24" rx="1.45" ry="1.55" fill="#111"/>
<ellipse cx="383.40" cy="250.02" rx="1.45" ry="1.55" fill="#111"/>
<ellipse cx="386.00" cy="250.51" rx="1.45" ry="1.55" fill="#111"/>
<ellipse cx="388.80" cy="250.52" rx="1.45" ry="1.55" fill="#111"/>
<ellipse cx="391.00" cy="250.53" rx="1.45" ry="1.55" fill="#111"/>
<ellipse cx="393.40" cy="250.54" rx="1.45" ry="1.55" fill="#111"/>
<ellipse cx="395.70" cy="250.56" rx="1.45" ry="1.55" fill="#111"/>
<ellipse cx="398.60" cy="250.57" rx="1.45" ry="1.55" fill="#111"/>
<ellipse cx="403.20" cy="250.60" rx="1.45" ry="1.55" fill="#111"/>
<ellipse cx="406.40" cy="251.47" rx="1.45" ry="1.55" fill="#111"/>
<ellipse cx="409.60" cy="252.52" rx="1.45" ry="1.55" fill="#111"/>
<ellipse cx="413.00" cy="253.30" rx="1.45" ry="1.55" fill="#111"/>
<ellipse cx="415.35" cy="253.31" rx="1.45" ry="1.55" fill="#111"/>
<ellipse cx="417.70" cy="253.32" rx="1.45" ry="1.55" fill="#111"/>
<ellipse cx="420.40" cy="253.34" rx="1.45" ry="1.55" fill="#111"/>
<ellipse cx="423.10" cy="253.35" rx="1.45" ry="1.55" fill="#111"/>
<ellipse cx="425.80" cy="253.36" rx="1.45" ry="1.55" fill="#111"/>
<ellipse cx="428.50" cy="253.37" rx="1.45" ry="1.55" fill="#111"/>
<ellipse cx="431.20" cy="253.38" rx="1.45" ry="1.55" fill="#111"/>
<ellipse cx="433.80" cy="253.39" rx="1.45" ry="1.55" fill="#111"/>
<ellipse cx="437.15" cy="255.35" rx="1.45" ry="1.55" fill="#111"/>
<ellipse cx="440.50" cy="257.40" rx="1.45" ry="1.55" fill="#111"/>
<ellipse cx="443.20" cy="257.40" rx="1.45" ry="1.55" fill="#111"/>
<ellipse cx="445.90" cy="257.40" rx="1.45" ry="1.55" fill="#111"/>
<ellipse cx="448.60" cy="257.40" rx="1.45" ry="1.55" fill="#111"/>
<ellipse cx="451.30" cy="257.40" rx="1.45" ry="1.55" fill="#111"/>
<ellipse cx="454.00" cy="257.40" rx="1.45" ry="1.55" fill="#111"/>
<ellipse cx="456.70" cy="257.40" rx="1.45" ry="1.55" fill="#111"/>
<ellipse cx="459.05" cy="260.69" rx="1.45" ry="1.55" fill="#111"/>
<ellipse cx="461.40" cy="261.90" rx="1.45" ry="1.55" fill="#111"/>
<ellipse cx="464.80" cy="261.90" rx="1.45" ry="1.55" fill="#111"/>
<ellipse cx="468.20" cy="261.90" rx="1.45" ry="1.55" fill="#111"/>
<ellipse cx="471.50" cy="261.90" rx="1.45" ry="1.55" fill="#111"/>
<ellipse cx="474.20" cy="261.90" rx="1.45" ry="1.55" fill="#111"/>
<ellipse cx="476.90" cy="261.90" rx="1.45" ry="1.55" fill="#111"/>
<ellipse cx="479.60" cy="261.90" rx="1.45" ry="1.55" fill="#111"/>
<line x1="319.80" y1="245.00" x2="319.80" y2="248.00" stroke="#111" stroke-width="1.0"/>
<line x1="318.80" y1="246.50" x2="320.80" y2="246.50" stroke="#111" stroke-width="1.1"/>
<line x1="323.30" y1="245.00" x2="323.30" y2="248.00" stroke="#111" stroke-width="1.0"/>
<line x1="322.30" y1="246.50" x2="324.30" y2="246.50" stroke="#111" stroke-width="1.1"/>
<line x1="331.30" y1="250.10" x2="331.30" y2="253.10" stroke="#111" stroke-width="1.0"/>
<line x1="330.30" y1="251.60" x2="332.30" y2="251.60" stroke="#111" stroke-width="1.1"/>
<line x1="332.50" y1="267.60" x2="332.50" y2="270.60" stroke="#111" stroke-width="1.0"/>
<line x1="331.50" y1="269.10" x2="333.50" y2="269.10" stroke="#111" stroke-width="1.1"/>
<line x1="336.00" y1="267.60" x2="336.00" y2="270.60" stroke="#111" stroke-width="1.0"/>
<line x1="335.00" y1="269.10" x2="337.00" y2="269.10" stroke="#111" stroke-width="1.1"/>
<line x1="339.40" y1="267.60" x2="339.40" y2="270.60" stroke="#111" stroke-width="1.0"/>
<line x1="338.40" y1="269.10" x2="340.40" y2="269.10" stroke="#111" stroke-width="1.1"/>
<line x1="355.40" y1="274.00" x2="355.40" y2="277.00" stroke="#111" stroke-width="1.0"/>
<line x1="354.40" y1="275.50" x2="356.40" y2="275.50" stroke="#111" stroke-width="1.1"/>
<line x1="357.70" y1="274.00" x2="357.70" y2="277.00" stroke="#111" stroke-width="1.0"/>
<line x1="356.70" y1="275.50" x2="358.70" y2="275.50" stroke="#111" stroke-width="1.1"/>
<line x1="359.20" y1="274.00" x2="359.20" y2="277.00" stroke="#111" stroke-width="1.0"/>
<line x1="358.20" y1="275.50" x2="360.20" y2="275.50" stroke="#111" stroke-width="1.1"/>
<line x1="366.90" y1="274.00" x2="366.90" y2="277.00" stroke="#111" stroke-width="1.0"/>
<line x1="365.90" y1="275.50" x2="367.90" y2="275.50" stroke="#111" stroke-width="1.1"/>
<line x1="370.80" y1="281.70" x2="370.80" y2="284.70" stroke="#111" stroke-width="1.0"/>
<line x1="369.80" y1="283.20" x2="371.80" y2="283.20" stroke="#111" stroke-width="1.1"/>
<line x1="399.20" y1="291.00" x2="399.20" y2="294.00" stroke="#111" stroke-width="1.0"/>
<line x1="398.20" y1="292.50" x2="400.20" y2="292.50" stroke="#111" stroke-width="1.1"/>
<line x1="416.60" y1="291.00" x2="416.60" y2="294.00" stroke="#111" stroke-width="1.0"/>
<line x1="415.60" y1="292.50" x2="417.60" y2="292.50" stroke="#111" stroke-width="1.1"/>
<line x1="432.50" y1="291.00" x2="432.50" y2="294.00" stroke="#111" stroke-width="1.0"/>
<line x1="431.50" y1="292.50" x2="433.50" y2="292.50" stroke="#111" stroke-width="1.1"/>
<line x1="434.60" y1="291.00" x2="434.60" y2="294.00" stroke="#111" stroke-width="1.0"/>
<line x1="433.60" y1="292.50" x2="435.60" y2="292.50" stroke="#111" stroke-width="1.1"/>
<line x1="443.10" y1="291.00" x2="443.10" y2="294.00" stroke="#111" stroke-width="1.0"/>
<line x1="442.10" y1="292.50" x2="444.10" y2="292.50" stroke="#111" stroke-width="1.1"/>
<line x1="453.70" y1="291.00" x2="453.70" y2="294.00" stroke="#111" stroke-width="1.0"/>
<line x1="452.70" y1="292.50" x2="454.70" y2="292.50" stroke="#111" stroke-width="1.1"/>
<line x1="455.80" y1="291.00" x2="455.80" y2="294.00" stroke="#111" stroke-width="1.0"/>
<line x1="454.80" y1="292.50" x2="456.80" y2="292.50" stroke="#111" stroke-width="1.1"/>
<line x1="466.30" y1="291.00" x2="466.30" y2="294.00" stroke="#111" stroke-width="1.0"/>
<line x1="465.30" y1="292.50" x2="467.30" y2="292.50" stroke="#111" stroke-width="1.1"/>
<line x1="468.50" y1="291.00" x2="468.50" y2="294.00" stroke="#111" stroke-width="1.0"/>
<line x1="467.50" y1="292.50" x2="469.50" y2="292.50" stroke="#111" stroke-width="1.1"/>
<line x1="318.70" y1="257.20" x2="318.70" y2="260.20" stroke="#111" stroke-width="1.0"/>
<line x1="317.70" y1="258.70" x2="319.70" y2="258.70" stroke="#111" stroke-width="1.1"/>
<line x1="331.30" y1="257.20" x2="331.30" y2="260.20" stroke="#111" stroke-width="1.0"/>
<line x1="330.30" y1="258.70" x2="332.30" y2="258.70" stroke="#111" stroke-width="1.1"/>
<line x1="336.50" y1="257.20" x2="336.50" y2="260.20" stroke="#111" stroke-width="1.0"/>
<line x1="335.50" y1="258.70" x2="337.50" y2="258.70" stroke="#111" stroke-width="1.1"/>
<line x1="369.80" y1="257.20" x2="369.80" y2="260.20" stroke="#111" stroke-width="1.0"/>
<line x1="368.80" y1="258.70" x2="370.80" y2="258.70" stroke="#111" stroke-width="1.1"/>
<line x1="378.50" y1="257.20" x2="378.50" y2="260.20" stroke="#111" stroke-width="1.0"/>
<line x1="377.50" y1="258.70" x2="379.50" y2="258.70" stroke="#111" stroke-width="1.1"/>
<text x="310.50" y="335.50" font-size="7" text-anchor="start" font-weight="normal" >6 Month</text>
<text x="310.50" y="343.80" font-size="7" text-anchor="start" font-weight="normal" >BCR-ABL/ABL</text>
<text x="358.70" y="343.80" font-size="7" text-anchor="start" font-weight="normal" >Total</text>
<text x="377.50" y="343.80" font-size="7" text-anchor="start" font-weight="normal" >Fail</text>
<text x="392.80" y="343.80" font-size="7" text-anchor="start" font-weight="normal" >3-Yr</text>
<line x1="311.60" y1="349.60" x2="322.70" y2="349.60" stroke="#111" stroke-width="1.4"/>
<text x="327.90" y="352.00" font-size="7" text-anchor="start" font-weight="normal" >1%</text>
<text x="373.30" y="352.00" font-size="7" text-anchor="end" font-weight="normal" >318</text>
<text x="384.50" y="352.00" font-size="7" text-anchor="middle" font-weight="normal" >23</text>
<text x="409.20" y="352.00" font-size="7" text-anchor="end" font-weight="normal" >97%</text>
<line x1="311.60" y1="357.60" x2="319.20" y2="357.60" stroke="#111" stroke-width="1.3" stroke-dasharray="2.5,2.6"/>
<text x="325.40" y="360.00" font-size="7" text-anchor="start" font-weight="normal" >&gt;1-10%</text>
<text x="373.30" y="360.00" font-size="7" text-anchor="end" font-weight="normal" >29</text>
<text x="384.50" y="360.00" font-size="7" text-anchor="middle" font-weight="normal" >8</text>
<text x="409.20" y="360.00" font-size="7" text-anchor="end" font-weight="normal" >76%</text>
<line x1="311.60" y1="365.60" x2="322.70" y2="365.60" stroke="#111" stroke-width="1.1" stroke-dasharray="1.7,1.0"/>
<text x="325.60" y="368.00" font-size="7" text-anchor="start" font-weight="normal" >&gt;10%</text>
<text x="373.30" y="368.00" font-size="7" text-anchor="end" font-weight="normal" >8</text>
<text x="384.50" y="368.00" font-size="7" text-anchor="middle" font-weight="normal" >1</text>
<text x="409.20" y="368.00" font-size="7" text-anchor="end" font-weight="normal" >88%</text>
<text x="345.50" y="376.00" font-size="7" text-anchor="start" font-weight="normal" >p &lt; 0.001</text>
<path d="M326.70,349.80 L325.00,350.80 L326.70,351.80 M324.90,352.90 H326.80" fill="none" stroke="#555" stroke-width="0.65"/>
</g></svg>
</body></html>
